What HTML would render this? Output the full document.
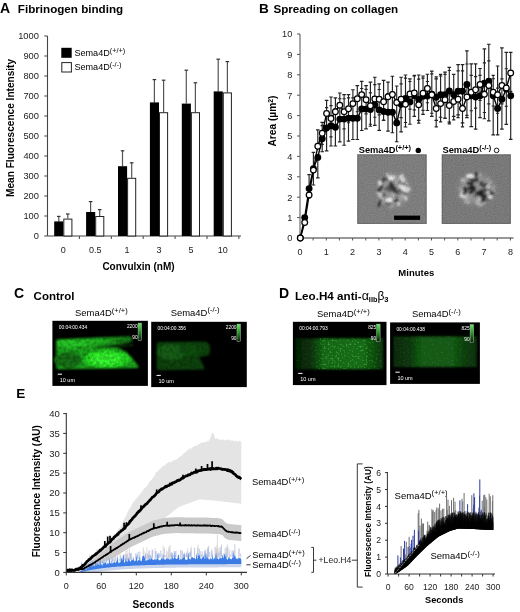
<!DOCTYPE html>
<html><head><meta charset="utf-8"><title>Figure</title>
<style>html,body{margin:0;padding:0;background:#fff;}svg{display:block;will-change:transform;}text{font-family:"Liberation Sans", sans-serif;}</style>
</head><body>
<svg width="520" height="612" viewBox="0 0 520 612" font-family='"Liberation Sans", sans-serif'>
<rect width="520" height="612" fill="#fff"/>
<defs>
<filter id="soft" x="-20%" y="-20%" width="140%" height="140%"><feGaussianBlur stdDeviation="0.9"/></filter>
<filter id="blur1" x="-20%" y="-20%" width="140%" height="140%"><feGaussianBlur stdDeviation="1.3"/></filter>
<filter id="speck" x="0" y="0" width="100%" height="100%"><feTurbulence type="fractalNoise" baseFrequency="0.3" numOctaves="2" seed="4"/><feColorMatrix type="matrix" values="0 0 0 0 0  0 0 0 0 0  0 0 0 0 0  2.2 0 0 0 -0.8"/><feGaussianBlur stdDeviation="0.5"/></filter>
<filter id="grain" x="0" y="0" width="100%" height="100%"><feTurbulence type="fractalNoise" baseFrequency="0.9" numOctaves="1" seed="2"/><feColorMatrix type="matrix" values="0 0 0 0 0  0 0 0 0 0  0 0 0 0 0  3 0 0 0 -1.2"/></filter>
<filter id="dots" x="0" y="0" width="100%" height="100%"><feTurbulence type="fractalNoise" baseFrequency="0.5" numOctaves="1" seed="6" result="n"/><feColorMatrix in="n" type="matrix" values="0 0 0 0 0  0 0 0 0 0  0 0 0 0 0  3.5 0 0 0 -1.75" result="m"/><feComposite in="SourceGraphic" in2="m" operator="in"/></filter>
<filter id="dots2" x="0" y="0" width="100%" height="100%"><feTurbulence type="fractalNoise" baseFrequency="0.5" numOctaves="1" seed="8" result="n"/><feColorMatrix in="n" type="matrix" values="0 0 0 0 0  0 0 0 0 0  0 0 0 0 0  3.5 0 0 0 -1.8" result="m"/><feComposite in="SourceGraphic" in2="m" operator="in"/></filter>
<linearGradient id="ubandG" x1="0" y1="0" x2="1" y2="0"><stop offset="0" stop-color="#22c022"/><stop offset="0.55" stop-color="#20b420"/><stop offset="1" stop-color="#137013"/></linearGradient>
<linearGradient id="dlG" x1="0" y1="0" x2="1" y2="0"><stop offset="0" stop-color="#051f05"/><stop offset="0.18" stop-color="#092f09"/><stop offset="0.32" stop-color="#136513"/><stop offset="0.75" stop-color="#146a14"/><stop offset="0.9" stop-color="#0e4a0e"/><stop offset="1" stop-color="#082e08"/></linearGradient>
<linearGradient id="dlD" x1="0" y1="0" x2="1" y2="0"><stop offset="0" stop-color="#0e3a0e"/><stop offset="0.2" stop-color="#1a5a1a"/><stop offset="0.33" stop-color="#4ac84a"/><stop offset="0.8" stop-color="#4ac84a"/><stop offset="1" stop-color="#1a5a1a"/></linearGradient>
<linearGradient id="drG" x1="0" y1="0" x2="1" y2="0"><stop offset="0" stop-color="#072807"/><stop offset="0.2" stop-color="#0a360a"/><stop offset="0.33" stop-color="#125812"/><stop offset="0.72" stop-color="#125812"/><stop offset="0.85" stop-color="#0c3e0c"/><stop offset="1" stop-color="#093009"/></linearGradient>
<linearGradient id="drD" x1="0" y1="0" x2="1" y2="0"><stop offset="0" stop-color="#184818"/><stop offset="0.3" stop-color="#2a802a"/><stop offset="0.75" stop-color="#2a802a"/><stop offset="1" stop-color="#184818"/></linearGradient>
<radialGradient id="halo"><stop offset="0" stop-color="#a8a8a8"/><stop offset="0.6" stop-color="#9c9c9c" stop-opacity="0.8"/><stop offset="1" stop-color="#888" stop-opacity="0"/></radialGradient>
<linearGradient id="cbar" x1="0" y1="0" x2="0" y2="1"><stop offset="0" stop-color="#5cf05c"/><stop offset="0.6" stop-color="#1c7a1c"/><stop offset="1" stop-color="#061806"/></linearGradient>
<clipPath id="clipCL"><path d="M56.3 339.2 L129 336.3 L133 338 L132 344 L120 346 L126 351.5 L133 359 L139 367 L56.3 369.3 Z"/></clipPath>
<clipPath id="clipCR"><path d="M156.6 342 L205 341.5 Q211 343 210.5 350 L209 356 L198 357 L203 366 L205 370 L156.6 370.3 Z"/></clipPath>
</defs>
<text x="0.0" y="12.6" font-size="14" font-weight="bold" text-anchor="start" fill="#000" >A</text>
<text x="17.8" y="12.6" font-size="11.65" font-weight="bold" text-anchor="start" fill="#000" >Fibrinogen binding</text>
<line x1="47.5" y1="36" x2="47.5" y2="236.0" stroke="#444" stroke-width="1.1"/>
<line x1="47.5" y1="236.0" x2="241" y2="236.0" stroke="#444" stroke-width="1.1"/>
<line x1="44.3" y1="236.0" x2="47.5" y2="236.0" stroke="#444" stroke-width="1"/>
<text x="38.9" y="239.3" font-size="9.3" text-anchor="end" fill="#222" >0</text>
<line x1="44.3" y1="216.0" x2="47.5" y2="216.0" stroke="#444" stroke-width="1"/>
<text x="38.9" y="219.3" font-size="9.3" text-anchor="end" fill="#222" >100</text>
<line x1="44.3" y1="196.0" x2="47.5" y2="196.0" stroke="#444" stroke-width="1"/>
<text x="38.9" y="199.3" font-size="9.3" text-anchor="end" fill="#222" >200</text>
<line x1="44.3" y1="176.0" x2="47.5" y2="176.0" stroke="#444" stroke-width="1"/>
<text x="38.9" y="179.3" font-size="9.3" text-anchor="end" fill="#222" >300</text>
<line x1="44.3" y1="156.0" x2="47.5" y2="156.0" stroke="#444" stroke-width="1"/>
<text x="38.9" y="159.3" font-size="9.3" text-anchor="end" fill="#222" >400</text>
<line x1="44.3" y1="136.0" x2="47.5" y2="136.0" stroke="#444" stroke-width="1"/>
<text x="38.9" y="139.3" font-size="9.3" text-anchor="end" fill="#222" >500</text>
<line x1="44.3" y1="116.0" x2="47.5" y2="116.0" stroke="#444" stroke-width="1"/>
<text x="38.9" y="119.3" font-size="9.3" text-anchor="end" fill="#222" >600</text>
<line x1="44.3" y1="96.0" x2="47.5" y2="96.0" stroke="#444" stroke-width="1"/>
<text x="38.9" y="99.3" font-size="9.3" text-anchor="end" fill="#222" >700</text>
<line x1="44.3" y1="76.0" x2="47.5" y2="76.0" stroke="#444" stroke-width="1"/>
<text x="38.9" y="79.3" font-size="9.3" text-anchor="end" fill="#222" >800</text>
<line x1="44.3" y1="56.0" x2="47.5" y2="56.0" stroke="#444" stroke-width="1"/>
<text x="38.9" y="59.3" font-size="9.3" text-anchor="end" fill="#222" >900</text>
<line x1="44.3" y1="36.0" x2="47.5" y2="36.0" stroke="#444" stroke-width="1"/>
<text x="38.9" y="39.3" font-size="9.3" text-anchor="end" fill="#222" >1000</text>
<line x1="79.4" y1="236.0" x2="79.4" y2="239.0" stroke="#444" stroke-width="1"/>
<line x1="111.3" y1="236.0" x2="111.3" y2="239.0" stroke="#444" stroke-width="1"/>
<line x1="143.2" y1="236.0" x2="143.2" y2="239.0" stroke="#444" stroke-width="1"/>
<line x1="175.1" y1="236.0" x2="175.1" y2="239.0" stroke="#444" stroke-width="1"/>
<line x1="207.0" y1="236.0" x2="207.0" y2="239.0" stroke="#444" stroke-width="1"/>
<line x1="238.9" y1="236.0" x2="238.9" y2="239.0" stroke="#444" stroke-width="1"/>
<text x="63.3" y="253.3" font-size="9" text-anchor="middle" fill="#222" >0</text>
<line x1="58.8" y1="221.4" x2="58.8" y2="216.4" stroke="#555" stroke-width="1.2"/>
<line x1="57.0" y1="216.4" x2="60.5" y2="216.4" stroke="#333" stroke-width="1.2"/>
<line x1="67.8" y1="218.6" x2="67.8" y2="214.0" stroke="#555" stroke-width="1.2"/>
<line x1="66.0" y1="214.0" x2="69.6" y2="214.0" stroke="#333" stroke-width="1.2"/>
<rect x="54.2" y="221.4" width="9.1" height="14.6" fill="#000"/>
<rect x="63.8" y="219.1" width="8.1" height="16.9" fill="#fff" stroke="#222" stroke-width="1"/>
<text x="95.2" y="253.3" font-size="9" text-anchor="middle" fill="#222" >0.5</text>
<line x1="90.6" y1="212.0" x2="90.6" y2="201.6" stroke="#555" stroke-width="1.2"/>
<line x1="88.8" y1="201.6" x2="92.4" y2="201.6" stroke="#333" stroke-width="1.2"/>
<line x1="99.7" y1="216.0" x2="99.7" y2="209.6" stroke="#555" stroke-width="1.2"/>
<line x1="97.9" y1="209.6" x2="101.5" y2="209.6" stroke="#333" stroke-width="1.2"/>
<rect x="86.1" y="212.0" width="9.1" height="24.0" fill="#000"/>
<rect x="95.7" y="216.5" width="8.1" height="19.5" fill="#fff" stroke="#222" stroke-width="1"/>
<text x="127.1" y="253.3" font-size="9" text-anchor="middle" fill="#222" >1</text>
<line x1="122.5" y1="166.2" x2="122.5" y2="150.8" stroke="#555" stroke-width="1.2"/>
<line x1="120.8" y1="150.8" x2="124.3" y2="150.8" stroke="#333" stroke-width="1.2"/>
<line x1="131.7" y1="177.8" x2="131.7" y2="162.8" stroke="#555" stroke-width="1.2"/>
<line x1="129.8" y1="162.8" x2="133.5" y2="162.8" stroke="#333" stroke-width="1.2"/>
<rect x="118.0" y="166.2" width="9.1" height="69.8" fill="#000"/>
<rect x="127.6" y="178.3" width="8.1" height="57.7" fill="#fff" stroke="#222" stroke-width="1"/>
<text x="159.0" y="253.3" font-size="9" text-anchor="middle" fill="#222" >3</text>
<line x1="154.4" y1="102.4" x2="154.4" y2="79.6" stroke="#555" stroke-width="1.2"/>
<line x1="152.6" y1="79.6" x2="156.2" y2="79.6" stroke="#333" stroke-width="1.2"/>
<line x1="163.6" y1="112.2" x2="163.6" y2="80.2" stroke="#555" stroke-width="1.2"/>
<line x1="161.8" y1="80.2" x2="165.4" y2="80.2" stroke="#333" stroke-width="1.2"/>
<rect x="149.9" y="102.4" width="9.1" height="133.6" fill="#000"/>
<rect x="159.5" y="112.7" width="8.1" height="123.3" fill="#fff" stroke="#222" stroke-width="1"/>
<text x="190.9" y="253.3" font-size="9" text-anchor="middle" fill="#222" >5</text>
<line x1="186.3" y1="103.6" x2="186.3" y2="70.2" stroke="#555" stroke-width="1.2"/>
<line x1="184.5" y1="70.2" x2="188.1" y2="70.2" stroke="#333" stroke-width="1.2"/>
<line x1="195.4" y1="112.2" x2="195.4" y2="82.8" stroke="#555" stroke-width="1.2"/>
<line x1="193.6" y1="82.8" x2="197.2" y2="82.8" stroke="#333" stroke-width="1.2"/>
<rect x="181.8" y="103.6" width="9.1" height="132.4" fill="#000"/>
<rect x="191.4" y="112.7" width="8.1" height="123.3" fill="#fff" stroke="#222" stroke-width="1"/>
<text x="222.8" y="253.3" font-size="9" text-anchor="middle" fill="#222" >10</text>
<line x1="218.2" y1="91.4" x2="218.2" y2="59.2" stroke="#555" stroke-width="1.2"/>
<line x1="216.4" y1="59.2" x2="220.1" y2="59.2" stroke="#333" stroke-width="1.2"/>
<line x1="227.4" y1="92.4" x2="227.4" y2="61.6" stroke="#555" stroke-width="1.2"/>
<line x1="225.6" y1="61.6" x2="229.2" y2="61.6" stroke="#333" stroke-width="1.2"/>
<rect x="213.7" y="91.4" width="9.1" height="144.6" fill="#000"/>
<rect x="223.3" y="92.9" width="8.1" height="143.1" fill="#fff" stroke="#222" stroke-width="1"/>
<text x="138.5" y="269.5" font-size="10" font-weight="bold" text-anchor="middle" fill="#000" >Convulxin (nM)</text>
<text transform="translate(14.3,127.9) rotate(-90)" font-size="10.1" font-weight="bold" text-anchor="middle">Mean Fluorescence Intensity</text>
<rect x="61.3" y="47.8" width="10.4" height="10" fill="#000"/>
<rect x="61.8" y="62.6" width="9.6" height="9.4" fill="#fff" stroke="#222" stroke-width="1"/>
<text x="74.4" y="55.6" font-size="9.1" text-anchor="start" fill="#000">Sema4D<tspan font-size="7.28" dy="-3.00">(+/+)</tspan></text>
<text x="74.4" y="70.4" font-size="9.1" text-anchor="start" fill="#000">Sema4D<tspan font-size="7.28" dy="-3.00">(-/-)</tspan></text>
<text x="259.0" y="12.6" font-size="13.6" font-weight="bold" text-anchor="start" fill="#000" >B</text>
<text x="273.4" y="12.6" font-size="11.65" font-weight="bold" text-anchor="start" fill="#000" >Spreading on collagen</text>
<line x1="300.0" y1="34" x2="300.0" y2="238.0" stroke="#777" stroke-width="1.3"/>
<line x1="300.0" y1="238.0" x2="513.5" y2="238.0" stroke="#333" stroke-width="1.2"/>
<line x1="297" y1="238.0" x2="300.0" y2="238.0" stroke="#555" stroke-width="1"/>
<text x="292.3" y="241.3" font-size="9.2" text-anchor="end" fill="#222" >0</text>
<line x1="297" y1="217.6" x2="300.0" y2="217.6" stroke="#555" stroke-width="1"/>
<text x="292.3" y="220.9" font-size="9.2" text-anchor="end" fill="#222" >1</text>
<line x1="297" y1="197.2" x2="300.0" y2="197.2" stroke="#555" stroke-width="1"/>
<text x="292.3" y="200.5" font-size="9.2" text-anchor="end" fill="#222" >2</text>
<line x1="297" y1="176.8" x2="300.0" y2="176.8" stroke="#555" stroke-width="1"/>
<text x="292.3" y="180.1" font-size="9.2" text-anchor="end" fill="#222" >3</text>
<line x1="297" y1="156.4" x2="300.0" y2="156.4" stroke="#555" stroke-width="1"/>
<text x="292.3" y="159.7" font-size="9.2" text-anchor="end" fill="#222" >4</text>
<line x1="297" y1="136.0" x2="300.0" y2="136.0" stroke="#555" stroke-width="1"/>
<text x="292.3" y="139.3" font-size="9.2" text-anchor="end" fill="#222" >5</text>
<line x1="297" y1="115.6" x2="300.0" y2="115.6" stroke="#555" stroke-width="1"/>
<text x="292.3" y="118.9" font-size="9.2" text-anchor="end" fill="#222" >6</text>
<line x1="297" y1="95.2" x2="300.0" y2="95.2" stroke="#555" stroke-width="1"/>
<text x="292.3" y="98.5" font-size="9.2" text-anchor="end" fill="#222" >7</text>
<line x1="297" y1="74.8" x2="300.0" y2="74.8" stroke="#555" stroke-width="1"/>
<text x="292.3" y="78.1" font-size="9.2" text-anchor="end" fill="#222" >8</text>
<line x1="297" y1="54.4" x2="300.0" y2="54.4" stroke="#555" stroke-width="1"/>
<text x="292.3" y="57.7" font-size="9.2" text-anchor="end" fill="#222" >9</text>
<line x1="297" y1="34.0" x2="300.0" y2="34.0" stroke="#555" stroke-width="1"/>
<text x="292.3" y="37.3" font-size="9.2" text-anchor="end" fill="#222" >10</text>
<line x1="300.0" y1="238.0" x2="300.0" y2="240.5" stroke="#555" stroke-width="1"/>
<line x1="313.1" y1="238.0" x2="313.1" y2="240.5" stroke="#555" stroke-width="1"/>
<line x1="326.3" y1="238.0" x2="326.3" y2="240.5" stroke="#555" stroke-width="1"/>
<line x1="339.4" y1="238.0" x2="339.4" y2="240.5" stroke="#555" stroke-width="1"/>
<line x1="352.6" y1="238.0" x2="352.6" y2="240.5" stroke="#555" stroke-width="1"/>
<line x1="365.8" y1="238.0" x2="365.8" y2="240.5" stroke="#555" stroke-width="1"/>
<line x1="378.9" y1="238.0" x2="378.9" y2="240.5" stroke="#555" stroke-width="1"/>
<line x1="392.1" y1="238.0" x2="392.1" y2="240.5" stroke="#555" stroke-width="1"/>
<line x1="405.2" y1="238.0" x2="405.2" y2="240.5" stroke="#555" stroke-width="1"/>
<line x1="418.4" y1="238.0" x2="418.4" y2="240.5" stroke="#555" stroke-width="1"/>
<line x1="431.5" y1="238.0" x2="431.5" y2="240.5" stroke="#555" stroke-width="1"/>
<line x1="444.6" y1="238.0" x2="444.6" y2="240.5" stroke="#555" stroke-width="1"/>
<line x1="457.8" y1="238.0" x2="457.8" y2="240.5" stroke="#555" stroke-width="1"/>
<line x1="471.0" y1="238.0" x2="471.0" y2="240.5" stroke="#555" stroke-width="1"/>
<line x1="484.1" y1="238.0" x2="484.1" y2="240.5" stroke="#555" stroke-width="1"/>
<line x1="497.2" y1="238.0" x2="497.2" y2="240.5" stroke="#555" stroke-width="1"/>
<line x1="510.4" y1="238.0" x2="510.4" y2="240.5" stroke="#555" stroke-width="1"/>
<text x="300.0" y="255.4" font-size="9.0" text-anchor="middle" fill="#222" >0</text>
<text x="326.3" y="255.4" font-size="9.0" text-anchor="middle" fill="#222" >1</text>
<text x="352.6" y="255.4" font-size="9.0" text-anchor="middle" fill="#222" >2</text>
<text x="378.9" y="255.4" font-size="9.0" text-anchor="middle" fill="#222" >3</text>
<text x="405.2" y="255.4" font-size="9.0" text-anchor="middle" fill="#222" >4</text>
<text x="431.5" y="255.4" font-size="9.0" text-anchor="middle" fill="#222" >5</text>
<text x="457.8" y="255.4" font-size="9.0" text-anchor="middle" fill="#222" >6</text>
<text x="484.1" y="255.4" font-size="9.0" text-anchor="middle" fill="#222" >7</text>
<text x="510.4" y="255.4" font-size="9.0" text-anchor="middle" fill="#222" >8</text>
<text x="416.3" y="275.5" font-size="9.5" font-weight="bold" text-anchor="middle" fill="#000" >Minutes</text>
<text transform="translate(276.3,121) rotate(-90)" font-size="10.2" font-weight="bold" text-anchor="middle">Area (µm<tspan font-size="6.9" dy="-3.7">2</tspan><tspan dy="3.7">)</tspan></text>
<path d="M304.7 222.5V216.4M302.9 216.4H306.5M304.7 217.6V223.7M302.9 223.7H306.5M309.1 195.0V174.6M307.3 174.6H310.9M309.1 188.6V197.8M307.3 197.8H310.9M313.4 170.1V152.3M311.6 152.3H315.2M313.4 168.6V185.0M311.6 185.0H315.2M317.8 146.2V129.9M316.0 129.9H319.6M317.8 157.4V177.8M316.0 177.8H319.6M322.2 133.3V122.3M320.4 122.3H324.0M322.2 138.7V151.7M320.4 151.7H324.0M322.2 133.3V144.4M320.6 144.4H323.8M322.2 138.7V125.6M320.6 125.6H323.8M326.6 113.4V100.3M324.8 100.3H328.4M326.6 128.0V150.9M324.8 150.9H328.4M326.6 113.4V126.4M325.0 126.4H328.2M326.6 128.0V107.6M325.0 107.6H328.2M331.0 118.5V97.0M329.2 97.0H332.8M331.0 125.8V146.0M329.2 146.0H332.8M331.0 118.5V136.8M329.4 136.8H332.6M331.0 125.8V105.6M329.4 105.6H332.6M335.4 111.7V97.9M333.6 97.9H337.2M335.4 127.2V146.0M333.6 146.0H337.2M335.4 111.7V125.6M333.8 125.6H337.0M335.4 127.2V108.5M333.8 108.5H337.0M339.8 105.2V93.0M337.9 93.0H341.6M339.8 119.1V141.9M337.9 141.9H341.6M339.8 105.2V117.4M338.1 117.4H341.4M339.8 119.1V98.7M338.1 98.7H341.4M344.1 111.7V94.6M342.3 94.6H345.9M344.1 119.1V145.2M342.3 145.2H345.9M344.1 111.7V128.9M342.5 128.9H345.7M344.1 119.1V98.7M342.5 98.7H345.7M348.5 108.7V94.6M346.7 94.6H350.3M348.5 118.3V141.1M346.7 141.1H350.3M348.5 108.7V122.7M346.9 122.7H350.1M348.5 118.3V97.9M346.9 97.9H350.1M352.9 103.6V89.7M351.1 89.7H354.7M352.9 118.3V139.5M351.1 139.5H354.7M352.9 103.6V117.4M351.3 117.4H354.5M352.9 118.3V97.9M351.3 97.9H354.5M357.3 98.7V85.6M355.5 85.6H359.1M357.3 118.3V139.5M355.5 139.5H359.1M357.3 98.7V111.7M355.7 111.7H358.9M357.3 118.3V97.9M355.7 97.9H358.9M361.7 94.6V81.3M359.9 81.3H363.5M361.7 108.9V130.5M359.9 130.5H363.5M361.7 94.6V107.8M360.1 107.8H363.3M361.7 108.9V88.5M360.1 88.5H363.3M366.1 99.7V85.6M364.2 85.6H367.9M366.1 109.1V128.9M364.2 128.9H367.9M366.1 99.7V113.8M364.4 113.8H367.7M366.1 109.1V89.3M364.4 89.3H367.7M370.4 105.8V82.1M368.6 82.1H372.2M370.4 109.5V126.2M368.6 126.2H372.2M370.4 105.8V124.2M368.8 124.2H372.0M370.4 109.5V92.8M368.8 92.8H372.0M374.8 98.9V77.2M373.0 77.2H376.6M374.8 105.0V125.4M373.0 125.4H376.6M374.8 98.9V117.2M373.2 117.2H376.4M374.8 105.0V84.6M373.2 84.6H376.4M379.2 99.3V83.8M377.4 83.8H381.0M379.2 109.9V130.3M377.4 130.3H381.0M379.2 99.3V114.8M377.6 114.8H380.8M379.2 109.9V89.5M377.6 89.5H380.8M383.6 101.7V80.3M381.8 80.3H385.4M383.6 111.5V120.5M381.8 120.5H385.4M383.6 101.7V120.1M382.0 120.1H385.2M383.6 111.5V102.5M382.0 102.5H385.2M388.0 96.8V82.1M386.2 82.1H389.8M388.0 112.3V131.1M386.2 131.1H389.8M388.0 96.8V111.5M386.4 111.5H389.6M388.0 112.3V93.6M386.4 93.6H389.6M392.4 94.4V76.2M390.6 76.2H394.2M392.4 112.3V132.7M390.6 132.7H394.2M392.4 94.4V112.5M390.8 112.5H394.0M392.4 112.3V91.9M390.8 91.9H394.0M396.7 102.5V86.0M394.9 86.0H398.5M396.7 122.9V141.7M394.9 141.7H398.5M396.7 102.5V119.1M395.1 119.1H398.3M396.7 122.9V104.2M395.1 104.2H398.3M401.1 99.3V77.2M399.3 77.2H402.9M401.1 104.2V131.9M399.3 131.9H402.9M401.1 99.3V117.6M399.5 117.6H402.7M401.1 104.2V83.8M399.5 83.8H402.7M405.5 104.2V75.0M403.7 75.0H407.3M405.5 98.5V127.0M403.7 127.0H407.3M405.5 104.2V122.5M403.9 122.5H407.1M405.5 98.5V78.1M403.9 78.1H407.1M409.9 94.0V78.9M408.1 78.9H411.7M409.9 101.9V124.2M408.1 124.2H411.7M409.9 94.0V109.1M408.3 109.1H411.5M409.9 101.9V81.5M408.3 81.5H411.5M414.3 93.0V76.0M412.5 76.0H416.1M414.3 95.6V116.4M412.5 116.4H416.1M414.3 93.0V109.9M412.7 109.9H415.9M414.3 95.6V75.2M412.7 75.2H415.9M418.7 104.8V75.0M416.9 75.0H420.5M418.7 99.5V120.3M416.9 120.3H420.5M418.7 104.8V123.1M417.1 123.1H420.3M418.7 99.5V79.1M417.1 79.1H420.3M423.0 93.2V76.0M421.2 76.0H424.8M423.0 96.2V114.4M421.2 114.4H424.8M423.0 93.2V110.3M421.4 110.3H424.6M423.0 96.2V78.1M421.4 78.1H424.6M427.4 88.5V74.2M425.6 74.2H429.2M427.4 96.0V110.5M425.6 110.5H429.2M427.4 88.5V102.7M425.8 102.7H429.0M427.4 96.0V81.5M425.8 81.5H429.0M431.8 94.8V71.1M430.0 71.1H433.6M431.8 94.2V116.4M430.0 116.4H433.6M431.8 94.8V113.2M430.2 113.2H433.4M431.8 94.2V73.8M430.2 73.8H433.4M436.2 108.5V78.9M434.4 78.9H438.0M436.2 97.2V120.3M434.4 120.3H438.0M436.2 108.5V126.8M434.6 126.8H437.8M436.2 97.2V76.8M434.6 76.8H437.8M440.6 103.6V76.0M438.8 76.0H442.4M440.6 94.8V117.2M438.8 117.2H442.4M440.6 103.6V121.9M439.0 121.9H442.2M440.6 94.8V74.4M439.0 74.4H442.2M445.0 99.7V72.1M443.2 72.1H446.8M445.0 94.8V118.3M443.2 118.3H446.8M445.0 99.7V118.0M443.4 118.0H446.6M445.0 94.8V74.4M443.4 74.4H446.6M449.3 105.4V67.3M447.5 67.3H451.1M449.3 90.9V122.1M447.5 122.1H451.1M449.3 105.4V123.8M447.7 123.8H450.9M449.3 90.9V70.5M447.7 70.5H450.9M453.7 101.5V74.2M451.9 74.2H455.5M453.7 94.8V116.4M451.9 116.4H455.5M453.7 101.5V119.9M452.1 119.9H455.3M453.7 94.8V74.4M452.1 74.4H455.3M458.1 99.3V64.6M456.3 64.6H459.9M458.1 91.3V114.8M456.3 114.8H459.9M458.1 99.3V117.6M456.5 117.6H459.7M458.1 91.3V70.9M456.5 70.9H459.7M462.5 108.5V64.6M460.7 64.6H464.3M462.5 91.3V122.9M460.7 122.9H464.3M462.5 108.5V126.8M460.9 126.8H464.1M462.5 91.3V70.9M460.9 70.9H464.1M466.9 97.0V50.9M465.1 50.9H468.7M466.9 84.4V117.6M465.1 117.6H468.7M466.9 97.0V115.4M465.3 115.4H468.5M466.9 84.4V64.0M465.3 64.0H468.5M471.2 92.3V63.8M469.4 63.8H473.1M471.2 95.8V126.6M469.4 126.6H473.1M471.2 92.3V110.7M469.6 110.7H472.9M471.2 95.8V75.4M469.6 75.4H472.9M475.6 89.7V63.8M473.8 63.8H477.4M475.6 97.0V129.1M473.8 129.1H477.4M475.6 89.7V108.1M474.0 108.1H477.2M475.6 97.0V76.6M474.0 76.6H477.2M480.0 84.4V68.5M478.2 68.5H481.8M480.0 95.8V117.6M478.2 117.6H481.8M480.0 84.4V100.3M478.4 100.3H481.6M480.0 95.8V75.4M478.4 75.4H481.6M484.4 94.2V48.9M482.6 48.9H486.2M484.4 83.2V118.7M482.6 118.7H486.2M484.4 94.2V112.5M482.8 112.5H486.0M484.4 83.2V62.8M482.8 62.8H486.0M488.8 85.4V44.2M487.0 44.2H490.6M488.8 81.3V120.9M487.0 120.9H490.6M488.8 85.4V103.8M487.2 103.8H490.4M488.8 81.3V60.9M487.2 60.9H490.4M493.2 92.3V78.7M491.4 78.7H495.0M493.2 95.8V134.8M491.4 134.8H495.0M493.2 92.3V106.0M491.6 106.0H494.8M493.2 95.8V75.4M491.6 75.4H494.8M497.6 94.8V66.0M495.8 66.0H499.4M497.6 108.5V134.8M495.8 134.8H499.4M497.6 94.8V113.2M496.0 113.2H499.2M497.6 108.5V88.1M496.0 88.1H499.2M501.9 85.4V47.9M500.1 47.9H503.7M501.9 99.3V129.1M500.1 129.1H503.7M501.9 85.4V103.8M500.3 103.8H503.5M501.9 99.3V78.9M500.3 78.9H503.5M506.3 87.9V52.4M504.5 52.4H508.1M506.3 89.1V124.4M504.5 124.4H508.1M506.3 87.9V106.2M504.7 106.2H507.9M506.3 89.1V68.7M504.7 68.7H507.9M510.7 73.0V52.4M508.9 52.4H512.5M510.7 95.8V139.3M508.9 139.3H512.5M510.7 73.0V91.3M509.1 91.3H512.3M510.7 95.8V75.4M509.1 75.4H512.3" stroke="#222" stroke-width="1.15" fill="none"/>
<polyline points="300.3,238.0 304.7,217.6 309.1,188.6 313.4,168.6 317.8,157.4 322.2,138.7 326.6,128.0 331.0,125.8 335.4,127.2 339.8,119.1 344.1,119.1 348.5,118.3 352.9,118.3 357.3,118.3 361.7,108.9 366.1,109.1 370.4,109.5 374.8,105.0 379.2,109.9 383.6,111.5 388.0,112.3 392.4,112.3 396.7,122.9 401.1,104.2 405.5,98.5 409.9,101.9 414.3,95.6 418.7,99.5 423.0,96.2 427.4,96.0 431.8,94.2 436.2,97.2 440.6,94.8 445.0,94.8 449.3,90.9 453.7,94.8 458.1,91.3 462.5,91.3 466.9,84.4 471.2,95.8 475.6,97.0 480.0,95.8 484.4,83.2 488.8,81.3 493.2,95.8 497.6,108.5 501.9,99.3 506.3,89.1 510.7,95.8" stroke="#000" stroke-width="1.4" fill="none"/>
<polyline points="300.3,238.0 304.7,222.5 309.1,195.0 313.4,170.1 317.8,146.2 322.2,133.3 326.6,113.4 331.0,118.5 335.4,111.7 339.8,105.2 344.1,111.7 348.5,108.7 352.9,103.6 357.3,98.7 361.7,94.6 366.1,99.7 370.4,105.8 374.8,98.9 379.2,99.3 383.6,101.7 388.0,96.8 392.4,94.4 396.7,102.5 401.1,99.3 405.5,104.2 409.9,94.0 414.3,93.0 418.7,104.8 423.0,93.2 427.4,88.5 431.8,94.8 436.2,108.5 440.6,103.6 445.0,99.7 449.3,105.4 453.7,101.5 458.1,99.3 462.5,108.5 466.9,97.0 471.2,92.3 475.6,89.7 480.0,84.4 484.4,94.2 488.8,85.4 493.2,92.3 497.6,94.8 501.9,85.4 506.3,87.9 510.7,73.0" stroke="#000" stroke-width="1.4" fill="none"/>
<circle cx="300.3" cy="238.0" r="3.45" fill="#000"/>
<circle cx="304.7" cy="217.6" r="3.45" fill="#000"/>
<circle cx="309.1" cy="188.6" r="3.45" fill="#000"/>
<circle cx="313.4" cy="168.6" r="3.45" fill="#000"/>
<circle cx="317.8" cy="157.4" r="3.45" fill="#000"/>
<circle cx="322.2" cy="138.7" r="3.45" fill="#000"/>
<circle cx="326.6" cy="128.0" r="3.45" fill="#000"/>
<circle cx="331.0" cy="125.8" r="3.45" fill="#000"/>
<circle cx="335.4" cy="127.2" r="3.45" fill="#000"/>
<circle cx="339.8" cy="119.1" r="3.45" fill="#000"/>
<circle cx="344.1" cy="119.1" r="3.45" fill="#000"/>
<circle cx="348.5" cy="118.3" r="3.45" fill="#000"/>
<circle cx="352.9" cy="118.3" r="3.45" fill="#000"/>
<circle cx="357.3" cy="118.3" r="3.45" fill="#000"/>
<circle cx="361.7" cy="108.9" r="3.45" fill="#000"/>
<circle cx="366.1" cy="109.1" r="3.45" fill="#000"/>
<circle cx="370.4" cy="109.5" r="3.45" fill="#000"/>
<circle cx="374.8" cy="105.0" r="3.45" fill="#000"/>
<circle cx="379.2" cy="109.9" r="3.45" fill="#000"/>
<circle cx="383.6" cy="111.5" r="3.45" fill="#000"/>
<circle cx="388.0" cy="112.3" r="3.45" fill="#000"/>
<circle cx="392.4" cy="112.3" r="3.45" fill="#000"/>
<circle cx="396.7" cy="122.9" r="3.45" fill="#000"/>
<circle cx="401.1" cy="104.2" r="3.45" fill="#000"/>
<circle cx="405.5" cy="98.5" r="3.45" fill="#000"/>
<circle cx="409.9" cy="101.9" r="3.45" fill="#000"/>
<circle cx="414.3" cy="95.6" r="3.45" fill="#000"/>
<circle cx="418.7" cy="99.5" r="3.45" fill="#000"/>
<circle cx="423.0" cy="96.2" r="3.45" fill="#000"/>
<circle cx="427.4" cy="96.0" r="3.45" fill="#000"/>
<circle cx="431.8" cy="94.2" r="3.45" fill="#000"/>
<circle cx="436.2" cy="97.2" r="3.45" fill="#000"/>
<circle cx="440.6" cy="94.8" r="3.45" fill="#000"/>
<circle cx="445.0" cy="94.8" r="3.45" fill="#000"/>
<circle cx="449.3" cy="90.9" r="3.45" fill="#000"/>
<circle cx="453.7" cy="94.8" r="3.45" fill="#000"/>
<circle cx="458.1" cy="91.3" r="3.45" fill="#000"/>
<circle cx="462.5" cy="91.3" r="3.45" fill="#000"/>
<circle cx="466.9" cy="84.4" r="3.45" fill="#000"/>
<circle cx="471.2" cy="95.8" r="3.45" fill="#000"/>
<circle cx="475.6" cy="97.0" r="3.45" fill="#000"/>
<circle cx="480.0" cy="95.8" r="3.45" fill="#000"/>
<circle cx="484.4" cy="83.2" r="3.45" fill="#000"/>
<circle cx="488.8" cy="81.3" r="3.45" fill="#000"/>
<circle cx="493.2" cy="95.8" r="3.45" fill="#000"/>
<circle cx="497.6" cy="108.5" r="3.45" fill="#000"/>
<circle cx="501.9" cy="99.3" r="3.45" fill="#000"/>
<circle cx="506.3" cy="89.1" r="3.45" fill="#000"/>
<circle cx="510.7" cy="95.8" r="3.45" fill="#000"/>
<circle cx="300.3" cy="238.0" r="2.85" fill="#fff" stroke="#000" stroke-width="1.25"/>
<circle cx="304.7" cy="222.5" r="2.85" fill="#fff" stroke="#000" stroke-width="1.25"/>
<circle cx="309.1" cy="195.0" r="2.85" fill="#fff" stroke="#000" stroke-width="1.25"/>
<circle cx="313.4" cy="170.1" r="2.85" fill="#fff" stroke="#000" stroke-width="1.25"/>
<circle cx="317.8" cy="146.2" r="2.85" fill="#fff" stroke="#000" stroke-width="1.25"/>
<circle cx="322.2" cy="133.3" r="2.85" fill="#fff" stroke="#000" stroke-width="1.25"/>
<circle cx="326.6" cy="113.4" r="2.85" fill="#fff" stroke="#000" stroke-width="1.25"/>
<circle cx="331.0" cy="118.5" r="2.85" fill="#fff" stroke="#000" stroke-width="1.25"/>
<circle cx="335.4" cy="111.7" r="2.85" fill="#fff" stroke="#000" stroke-width="1.25"/>
<circle cx="339.8" cy="105.2" r="2.85" fill="#fff" stroke="#000" stroke-width="1.25"/>
<circle cx="344.1" cy="111.7" r="2.85" fill="#fff" stroke="#000" stroke-width="1.25"/>
<circle cx="348.5" cy="108.7" r="2.85" fill="#fff" stroke="#000" stroke-width="1.25"/>
<circle cx="352.9" cy="103.6" r="2.85" fill="#fff" stroke="#000" stroke-width="1.25"/>
<circle cx="357.3" cy="98.7" r="2.85" fill="#fff" stroke="#000" stroke-width="1.25"/>
<circle cx="361.7" cy="94.6" r="2.85" fill="#fff" stroke="#000" stroke-width="1.25"/>
<circle cx="366.1" cy="99.7" r="2.85" fill="#fff" stroke="#000" stroke-width="1.25"/>
<circle cx="370.4" cy="105.8" r="2.85" fill="#fff" stroke="#000" stroke-width="1.25"/>
<circle cx="374.8" cy="98.9" r="2.85" fill="#fff" stroke="#000" stroke-width="1.25"/>
<circle cx="379.2" cy="99.3" r="2.85" fill="#fff" stroke="#000" stroke-width="1.25"/>
<circle cx="383.6" cy="101.7" r="2.85" fill="#fff" stroke="#000" stroke-width="1.25"/>
<circle cx="388.0" cy="96.8" r="2.85" fill="#fff" stroke="#000" stroke-width="1.25"/>
<circle cx="392.4" cy="94.4" r="2.85" fill="#fff" stroke="#000" stroke-width="1.25"/>
<circle cx="396.7" cy="102.5" r="2.85" fill="#fff" stroke="#000" stroke-width="1.25"/>
<circle cx="401.1" cy="99.3" r="2.85" fill="#fff" stroke="#000" stroke-width="1.25"/>
<circle cx="405.5" cy="104.2" r="2.85" fill="#fff" stroke="#000" stroke-width="1.25"/>
<circle cx="409.9" cy="94.0" r="2.85" fill="#fff" stroke="#000" stroke-width="1.25"/>
<circle cx="414.3" cy="93.0" r="2.85" fill="#fff" stroke="#000" stroke-width="1.25"/>
<circle cx="418.7" cy="104.8" r="2.85" fill="#fff" stroke="#000" stroke-width="1.25"/>
<circle cx="423.0" cy="93.2" r="2.85" fill="#fff" stroke="#000" stroke-width="1.25"/>
<circle cx="427.4" cy="88.5" r="2.85" fill="#fff" stroke="#000" stroke-width="1.25"/>
<circle cx="431.8" cy="94.8" r="2.85" fill="#fff" stroke="#000" stroke-width="1.25"/>
<circle cx="436.2" cy="108.5" r="2.85" fill="#fff" stroke="#000" stroke-width="1.25"/>
<circle cx="440.6" cy="103.6" r="2.85" fill="#fff" stroke="#000" stroke-width="1.25"/>
<circle cx="445.0" cy="99.7" r="2.85" fill="#fff" stroke="#000" stroke-width="1.25"/>
<circle cx="449.3" cy="105.4" r="2.85" fill="#fff" stroke="#000" stroke-width="1.25"/>
<circle cx="453.7" cy="101.5" r="2.85" fill="#fff" stroke="#000" stroke-width="1.25"/>
<circle cx="458.1" cy="99.3" r="2.85" fill="#fff" stroke="#000" stroke-width="1.25"/>
<circle cx="462.5" cy="108.5" r="2.85" fill="#fff" stroke="#000" stroke-width="1.25"/>
<circle cx="466.9" cy="97.0" r="2.85" fill="#fff" stroke="#000" stroke-width="1.25"/>
<circle cx="471.2" cy="92.3" r="2.85" fill="#fff" stroke="#000" stroke-width="1.25"/>
<circle cx="475.6" cy="89.7" r="2.85" fill="#fff" stroke="#000" stroke-width="1.25"/>
<circle cx="480.0" cy="84.4" r="2.85" fill="#fff" stroke="#000" stroke-width="1.25"/>
<circle cx="484.4" cy="94.2" r="2.85" fill="#fff" stroke="#000" stroke-width="1.25"/>
<circle cx="488.8" cy="85.4" r="2.85" fill="#fff" stroke="#000" stroke-width="1.25"/>
<circle cx="493.2" cy="92.3" r="2.85" fill="#fff" stroke="#000" stroke-width="1.25"/>
<circle cx="497.6" cy="94.8" r="2.85" fill="#fff" stroke="#000" stroke-width="1.25"/>
<circle cx="501.9" cy="85.4" r="2.85" fill="#fff" stroke="#000" stroke-width="1.25"/>
<circle cx="506.3" cy="87.9" r="2.85" fill="#fff" stroke="#000" stroke-width="1.25"/>
<circle cx="510.7" cy="73.0" r="2.85" fill="#fff" stroke="#000" stroke-width="1.25"/>
<rect x="357.3" y="154.4" width="69.3" height="69.5" fill="#838383"/>
<g filter="url(#soft)"><ellipse cx="393.5" cy="190" rx="19.5" ry="20.6" fill="url(#halo)"/>
<polygon points="405.4,190.0 405.4,195.4 405.0,202.7 398.1,202.2 393.5,203.6 388.5,203.4 386.9,197.3 382.0,195.2 380.0,190.0 379.6,183.7 387.5,183.4 389.5,179.3 393.5,180.7 399.3,174.5 403.5,179.0 400.9,186.6" fill="#979797"/>
<ellipse cx="408.3" cy="188.2" rx="2.4" ry="1.5" fill="#c8c8c8" transform="rotate(387 408.3 188.2)"/>
<ellipse cx="396.1" cy="191.2" rx="2.6" ry="1.2" fill="#a0a0a0" transform="rotate(32 396.1 191.2)"/>
<ellipse cx="396.0" cy="197.6" rx="2.5" ry="1.3" fill="#141414" transform="rotate(48 396.0 197.6)"/>
<ellipse cx="408.7" cy="189.8" rx="1.9" ry="1.1" fill="#eaeaea" transform="rotate(338 408.7 189.8)"/>
<ellipse cx="405.5" cy="196.3" rx="2.0" ry="1.8" fill="#969696" transform="rotate(60 405.5 196.3)"/>
<ellipse cx="400.5" cy="190.0" rx="2.0" ry="1.5" fill="#b8b8b8" transform="rotate(-8 400.5 190.0)"/>
<ellipse cx="387.3" cy="187.0" rx="1.5" ry="1.2" fill="#969696" transform="rotate(250 387.3 187.0)"/>
<ellipse cx="393.8" cy="184.3" rx="1.4" ry="1.3" fill="#141414" transform="rotate(272 393.8 184.3)"/>
<ellipse cx="390.8" cy="183.4" rx="2.1" ry="1.2" fill="#222" transform="rotate(235 390.8 183.4)"/>
<ellipse cx="393.8" cy="190.0" rx="1.9" ry="1.7" fill="#4a4a4a" transform="rotate(327 393.8 190.0)"/>
<ellipse cx="382.4" cy="199.5" rx="1.5" ry="1.0" fill="#a0a0a0" transform="rotate(136 382.4 199.5)"/>
<ellipse cx="405.4" cy="190.8" rx="1.5" ry="1.0" fill="#dcdcdc" transform="rotate(12 405.4 190.8)"/>
<ellipse cx="394.0" cy="203.0" rx="1.6" ry="1.4" fill="#b8b8b8" transform="rotate(121 394.0 203.0)"/>
<ellipse cx="399.7" cy="197.8" rx="2.9" ry="1.6" fill="#969696" transform="rotate(24 399.7 197.8)"/>
<ellipse cx="398.3" cy="203.4" rx="2.5" ry="1.2" fill="#f6f6f6" transform="rotate(67 398.3 203.4)"/>
<ellipse cx="396.4" cy="191.7" rx="2.9" ry="1.1" fill="#4a4a4a" transform="rotate(49 396.4 191.7)"/>
<ellipse cx="392.9" cy="205.2" rx="2.2" ry="1.7" fill="#969696" transform="rotate(140 392.9 205.2)"/>
<ellipse cx="400.9" cy="198.3" rx="1.8" ry="1.7" fill="#a0a0a0" transform="rotate(16 400.9 198.3)"/>
<ellipse cx="401.3" cy="190.9" rx="1.5" ry="1.2" fill="#141414" transform="rotate(9 401.3 190.9)"/>
<ellipse cx="398.1" cy="189.1" rx="3.0" ry="1.5" fill="#3c3c3c" transform="rotate(369 398.1 189.1)"/>
<ellipse cx="388.6" cy="186.8" rx="2.2" ry="1.2" fill="#141414" transform="rotate(192 388.6 186.8)"/>
<ellipse cx="405.0" cy="192.7" rx="2.6" ry="1.2" fill="#141414" transform="rotate(62 405.0 192.7)"/>
<ellipse cx="403.5" cy="195.6" rx="2.7" ry="1.7" fill="#acacac" transform="rotate(12 403.5 195.6)"/>
<ellipse cx="387.8" cy="175.4" rx="2.9" ry="0.9" fill="#dcdcdc" transform="rotate(247 387.8 175.4)"/>
<ellipse cx="405.8" cy="191.2" rx="2.4" ry="1.0" fill="#a0a0a0" transform="rotate(19 405.8 191.2)"/>
<ellipse cx="407.7" cy="189.3" rx="2.9" ry="1.5" fill="#dcdcdc" transform="rotate(353 407.7 189.3)"/>
<ellipse cx="382.6" cy="192.9" rx="1.9" ry="1.0" fill="#a0a0a0" transform="rotate(119 382.6 192.9)"/>
<ellipse cx="398.4" cy="188.5" rx="1.8" ry="0.9" fill="#b8b8b8" transform="rotate(325 398.4 188.5)"/>
<ellipse cx="390.5" cy="183.2" rx="2.5" ry="1.3" fill="#2e2e2e" transform="rotate(283 390.5 183.2)"/>
<ellipse cx="387.7" cy="202.1" rx="2.7" ry="1.6" fill="#3c3c3c" transform="rotate(88 387.7 202.1)"/>
<ellipse cx="395.1" cy="197.6" rx="1.6" ry="1.3" fill="#acacac" transform="rotate(111 395.1 197.6)"/>
<ellipse cx="401.0" cy="178.5" rx="2.7" ry="1.0" fill="#eaeaea" transform="rotate(303 401.0 178.5)"/>
<ellipse cx="405.9" cy="183.1" rx="2.5" ry="1.5" fill="#b8b8b8" transform="rotate(367 405.9 183.1)"/>
<ellipse cx="387.4" cy="183.3" rx="2.8" ry="0.9" fill="#969696" transform="rotate(246 387.4 183.3)"/>
<ellipse cx="385.9" cy="186.0" rx="2.4" ry="1.3" fill="#a0a0a0" transform="rotate(174 385.9 186.0)"/>
<ellipse cx="394.4" cy="181.4" rx="3.0" ry="1.0" fill="#a0a0a0" transform="rotate(238 394.4 181.4)"/>
<ellipse cx="381.6" cy="187.0" rx="2.5" ry="1.1" fill="#a0a0a0" transform="rotate(190 381.6 187.0)"/>
<ellipse cx="394.2" cy="191.6" rx="1.7" ry="1.1" fill="#141414" transform="rotate(49 394.2 191.6)"/>
<ellipse cx="389.9" cy="178.6" rx="2.0" ry="1.6" fill="#acacac" transform="rotate(292 389.9 178.6)"/>
<ellipse cx="406.0" cy="198.4" rx="2.1" ry="1.1" fill="#f6f6f6" transform="rotate(70 406.0 198.4)"/>
<ellipse cx="404.8" cy="190.5" rx="2.1" ry="1.5" fill="#969696" transform="rotate(-27 404.8 190.5)"/>
<ellipse cx="391.1" cy="175.1" rx="1.7" ry="1.7" fill="#a0a0a0" transform="rotate(308 391.1 175.1)"/>
<ellipse cx="404.5" cy="188.3" rx="1.8" ry="1.5" fill="#eaeaea" transform="rotate(303 404.5 188.3)"/>
<ellipse cx="390.6" cy="189.9" rx="2.6" ry="1.3" fill="#3c3c3c" transform="rotate(135 390.6 189.9)"/>
<ellipse cx="394.9" cy="186.1" rx="2.3" ry="1.5" fill="#acacac" transform="rotate(333 394.9 186.1)"/>
<ellipse cx="378.6" cy="193.1" rx="2.7" ry="1.5" fill="#c8c8c8" transform="rotate(214 378.6 193.1)"/>
<ellipse cx="378.7" cy="190.8" rx="2.1" ry="1.4" fill="#222" transform="rotate(210 378.7 190.8)"/>
<ellipse cx="387.8" cy="187.4" rx="1.8" ry="1.5" fill="#4a4a4a" transform="rotate(248 387.8 187.4)"/>
<ellipse cx="401.6" cy="180.5" rx="2.9" ry="1.4" fill="#222" transform="rotate(321 401.6 180.5)"/>
<ellipse cx="396.9" cy="201.7" rx="1.4" ry="1.8" fill="#b8b8b8" transform="rotate(74 396.9 201.7)"/>
<ellipse cx="382.5" cy="198.8" rx="1.5" ry="1.1" fill="#b8b8b8" transform="rotate(187 382.5 198.8)"/>
<ellipse cx="379.4" cy="194.1" rx="1.8" ry="1.3" fill="#dcdcdc" transform="rotate(128 379.4 194.1)"/>
<ellipse cx="380.9" cy="196.1" rx="2.2" ry="1.0" fill="#dcdcdc" transform="rotate(148 380.9 196.1)"/>
<ellipse cx="401.1" cy="191.6" rx="1.5" ry="1.0" fill="#a0a0a0" transform="rotate(-38 401.1 191.6)"/>
<ellipse cx="390.8" cy="203.9" rx="1.6" ry="1.6" fill="#3c3c3c" transform="rotate(65 390.8 203.9)"/>
<ellipse cx="385.9" cy="189.4" rx="2.8" ry="0.9" fill="#4a4a4a" transform="rotate(197 385.9 189.4)"/>
<ellipse cx="398.9" cy="178.3" rx="2.2" ry="1.7" fill="#acacac" transform="rotate(308 398.9 178.3)"/>
<ellipse cx="398.1" cy="183.7" rx="2.8" ry="1.2" fill="#969696" transform="rotate(290 398.1 183.7)"/>
<ellipse cx="399.8" cy="186.4" rx="1.6" ry="1.1" fill="#fff" transform="rotate(355 399.8 186.4)"/>
<ellipse cx="393.2" cy="195.2" rx="2.3" ry="1.5" fill="#b8b8b8" transform="rotate(63 393.2 195.2)"/>
<ellipse cx="384.1" cy="179.2" rx="2.5" ry="1.7" fill="#4a4a4a" transform="rotate(273 384.1 179.2)"/>
<ellipse cx="401.6" cy="197.9" rx="2.7" ry="1.3" fill="#acacac" transform="rotate(-6 401.6 197.9)"/>
<ellipse cx="394.4" cy="176.9" rx="1.6" ry="1.1" fill="#dcdcdc" transform="rotate(245 394.4 176.9)"/>
<ellipse cx="401.6" cy="176.0" rx="2.3" ry="1.0" fill="#fff" transform="rotate(321 401.6 176.0)"/>
<ellipse cx="397.7" cy="192.4" rx="2.2" ry="1.3" fill="#3c3c3c" transform="rotate(38 397.7 192.4)"/>
<ellipse cx="406.2" cy="191.2" rx="2.1" ry="1.2" fill="#f6f6f6" transform="rotate(-8 406.2 191.2)"/>
<ellipse cx="403.9" cy="183.9" rx="1.9" ry="1.0" fill="#141414" transform="rotate(366 403.9 183.9)"/>
<ellipse cx="403.8" cy="178.8" rx="2.4" ry="1.4" fill="#c8c8c8" transform="rotate(363 403.8 178.8)"/>
<ellipse cx="396.1" cy="182.0" rx="2.7" ry="1.3" fill="#acacac" transform="rotate(329 396.1 182.0)"/>
<ellipse cx="402.7" cy="180.4" rx="2.0" ry="1.6" fill="#f6f6f6" transform="rotate(274 402.7 180.4)"/>
<ellipse cx="387.8" cy="199.6" rx="3.0" ry="1.7" fill="#2e2e2e" transform="rotate(78 387.8 199.6)"/>
<ellipse cx="391.4" cy="206.2" rx="2.5" ry="1.4" fill="#acacac" transform="rotate(102 391.4 206.2)"/>
<ellipse cx="381.8" cy="200.7" rx="2.6" ry="1.8" fill="#fff" transform="rotate(93 381.8 200.7)"/>
<ellipse cx="383.7" cy="180.5" rx="2.2" ry="1.6" fill="#3c3c3c" transform="rotate(236 383.7 180.5)"/>
<ellipse cx="401.2" cy="190.6" rx="2.3" ry="1.4" fill="#2e2e2e" transform="rotate(51 401.2 190.6)"/>
<ellipse cx="379.7" cy="183.1" rx="2.3" ry="1.5" fill="#fff" transform="rotate(250 379.7 183.1)"/>
<ellipse cx="382.4" cy="200.6" rx="2.8" ry="1.4" fill="#acacac" transform="rotate(149 382.4 200.6)"/>
<ellipse cx="383.8" cy="195.0" rx="2.4" ry="1.2" fill="#3c3c3c" transform="rotate(133 383.8 195.0)"/>
<ellipse cx="387.1" cy="179.6" rx="1.4" ry="1.6" fill="#2e2e2e" transform="rotate(244 387.1 179.6)"/>
<ellipse cx="387.0" cy="182.1" rx="2.8" ry="1.6" fill="#a0a0a0" transform="rotate(183 387.0 182.1)"/><ellipse cx="381" cy="188" rx="3.5" ry="1.4" fill="#1a1a1a" transform="rotate(-60 381 188)"/><ellipse cx="380" cy="203" rx="4.5" ry="1.3" fill="#262626" transform="rotate(-65 380 203)"/><ellipse cx="393" cy="187" rx="3" ry="1.6" fill="#222" transform="rotate(20 393 187)"/><ellipse cx="396" cy="201" rx="2.5" ry="1.5" fill="#2a2a2a"/><ellipse cx="391" cy="178" rx="3" ry="2" fill="#f4f4f4"/><ellipse cx="403" cy="188" rx="2.5" ry="3" fill="#eee"/><ellipse cx="389" cy="200" rx="3.5" ry="2.5" fill="#f0f0f0"/></g>
<rect x="357.3" y="154.4" width="69.3" height="69.5" fill="#000" filter="url(#grain)" opacity="0.12"/>
<rect x="394.1" y="215.6" width="26" height="4.3" fill="#000"/>
<rect x="441.8" y="154.4" width="69" height="69.5" fill="#7e7e7e"/>
<g filter="url(#soft)"><ellipse cx="476.5" cy="189.5" rx="23.0" ry="19.4" fill="url(#halo)"/>
<polygon points="490.7,189.5 491.5,195.0 488.0,199.7 480.5,198.1 476.5,197.5 471.5,200.2 468.0,197.0 459.9,195.5 459.9,189.5 462.1,184.2 465.8,180.1 470.3,176.3 476.5,180.2 481.8,178.2 484.1,182.8 494.0,183.1" fill="#979797"/>
<ellipse cx="491.6" cy="194.6" rx="2.5" ry="1.6" fill="#2e2e2e" transform="rotate(-20 491.6 194.6)"/>
<ellipse cx="490.6" cy="182.5" rx="1.5" ry="1.8" fill="#acacac" transform="rotate(375 490.6 182.5)"/>
<ellipse cx="485.3" cy="196.2" rx="2.8" ry="1.4" fill="#2e2e2e" transform="rotate(88 485.3 196.2)"/>
<ellipse cx="486.5" cy="181.8" rx="2.0" ry="1.3" fill="#a0a0a0" transform="rotate(328 486.5 181.8)"/>
<ellipse cx="465.5" cy="190.9" rx="2.9" ry="1.8" fill="#141414" transform="rotate(188 465.5 190.9)"/>
<ellipse cx="469.8" cy="196.9" rx="1.6" ry="1.1" fill="#969696" transform="rotate(115 469.8 196.9)"/>
<ellipse cx="460.4" cy="188.5" rx="2.0" ry="1.7" fill="#a0a0a0" transform="rotate(137 460.4 188.5)"/>
<ellipse cx="491.0" cy="191.6" rx="2.6" ry="1.0" fill="#222" transform="rotate(14 491.0 191.6)"/>
<ellipse cx="483.0" cy="201.3" rx="2.2" ry="1.4" fill="#2e2e2e" transform="rotate(87 483.0 201.3)"/>
<ellipse cx="465.7" cy="188.7" rx="2.2" ry="1.8" fill="#3c3c3c" transform="rotate(183 465.7 188.7)"/>
<ellipse cx="483.5" cy="187.7" rx="1.7" ry="1.6" fill="#969696" transform="rotate(316 483.5 187.7)"/>
<ellipse cx="462.9" cy="180.0" rx="1.7" ry="1.6" fill="#eaeaea" transform="rotate(219 462.9 180.0)"/>
<ellipse cx="476.6" cy="194.9" rx="2.2" ry="0.9" fill="#4a4a4a" transform="rotate(71 476.6 194.9)"/>
<ellipse cx="480.3" cy="175.5" rx="2.7" ry="1.4" fill="#acacac" transform="rotate(282 480.3 175.5)"/>
<ellipse cx="467.5" cy="199.9" rx="2.1" ry="1.5" fill="#acacac" transform="rotate(82 467.5 199.9)"/>
<ellipse cx="468.5" cy="202.3" rx="2.5" ry="1.1" fill="#b8b8b8" transform="rotate(97 468.5 202.3)"/>
<ellipse cx="476.0" cy="202.5" rx="2.3" ry="1.1" fill="#acacac" transform="rotate(56 476.0 202.5)"/>
<ellipse cx="480.3" cy="199.8" rx="2.4" ry="1.7" fill="#4a4a4a" transform="rotate(118 480.3 199.8)"/>
<ellipse cx="477.3" cy="179.3" rx="2.7" ry="1.4" fill="#b8b8b8" transform="rotate(259 477.3 179.3)"/>
<ellipse cx="466.1" cy="199.4" rx="2.5" ry="1.0" fill="#a0a0a0" transform="rotate(86 466.1 199.4)"/>
<ellipse cx="481.2" cy="190.5" rx="2.7" ry="1.2" fill="#222" transform="rotate(-27 481.2 190.5)"/>
<ellipse cx="470.5" cy="196.5" rx="2.4" ry="1.0" fill="#b8b8b8" transform="rotate(131 470.5 196.5)"/>
<ellipse cx="473.1" cy="180.1" rx="2.0" ry="1.0" fill="#3c3c3c" transform="rotate(235 473.1 180.1)"/>
<ellipse cx="470.6" cy="177.2" rx="2.6" ry="1.5" fill="#222" transform="rotate(291 470.6 177.2)"/>
<ellipse cx="474.5" cy="191.5" rx="2.2" ry="1.0" fill="#3c3c3c" transform="rotate(141 474.5 191.5)"/>
<ellipse cx="460.3" cy="193.5" rx="1.4" ry="1.2" fill="#222" transform="rotate(142 460.3 193.5)"/>
<ellipse cx="480.0" cy="199.4" rx="2.2" ry="1.5" fill="#222" transform="rotate(39 480.0 199.4)"/>
<ellipse cx="462.9" cy="192.2" rx="2.1" ry="1.6" fill="#f6f6f6" transform="rotate(122 462.9 192.2)"/>
<ellipse cx="478.1" cy="179.5" rx="2.2" ry="1.3" fill="#b8b8b8" transform="rotate(233 478.1 179.5)"/>
<ellipse cx="487.1" cy="196.9" rx="1.9" ry="1.3" fill="#141414" transform="rotate(24 487.1 196.9)"/>
<ellipse cx="474.2" cy="194.9" rx="1.6" ry="1.3" fill="#4a4a4a" transform="rotate(103 474.2 194.9)"/>
<ellipse cx="469.0" cy="197.1" rx="2.0" ry="1.7" fill="#969696" transform="rotate(171 469.0 197.1)"/>
<ellipse cx="473.8" cy="194.5" rx="2.7" ry="1.2" fill="#4a4a4a" transform="rotate(108 473.8 194.5)"/>
<ellipse cx="470.8" cy="181.8" rx="2.0" ry="1.3" fill="#b8b8b8" transform="rotate(268 470.8 181.8)"/>
<ellipse cx="480.4" cy="195.7" rx="2.2" ry="0.9" fill="#2e2e2e" transform="rotate(95 480.4 195.7)"/>
<ellipse cx="487.9" cy="179.3" rx="2.6" ry="1.7" fill="#969696" transform="rotate(296 487.9 179.3)"/>
<ellipse cx="487.3" cy="179.7" rx="1.9" ry="0.9" fill="#c8c8c8" transform="rotate(281 487.3 179.7)"/>
<ellipse cx="484.3" cy="200.9" rx="3.0" ry="1.6" fill="#222" transform="rotate(63 484.3 200.9)"/>
<ellipse cx="493.4" cy="191.5" rx="2.3" ry="1.3" fill="#b8b8b8" transform="rotate(11 493.4 191.5)"/>
<ellipse cx="467.2" cy="178.0" rx="2.1" ry="1.5" fill="#969696" transform="rotate(223 467.2 178.0)"/>
<ellipse cx="465.4" cy="195.3" rx="1.4" ry="1.0" fill="#969696" transform="rotate(175 465.4 195.3)"/>
<ellipse cx="472.7" cy="193.3" rx="2.3" ry="1.8" fill="#b8b8b8" transform="rotate(119 472.7 193.3)"/>
<ellipse cx="491.9" cy="196.1" rx="1.6" ry="1.0" fill="#acacac" transform="rotate(-19 491.9 196.1)"/>
<ellipse cx="485.4" cy="189.9" rx="2.4" ry="1.8" fill="#4a4a4a" transform="rotate(49 485.4 189.9)"/>
<ellipse cx="476.1" cy="174.2" rx="2.3" ry="1.6" fill="#222" transform="rotate(282 476.1 174.2)"/>
<ellipse cx="466.4" cy="191.7" rx="2.7" ry="1.3" fill="#969696" transform="rotate(182 466.4 191.7)"/>
<ellipse cx="474.2" cy="192.8" rx="1.6" ry="1.0" fill="#969696" transform="rotate(120 474.2 192.8)"/>
<ellipse cx="482.7" cy="195.8" rx="2.2" ry="1.6" fill="#141414" transform="rotate(82 482.7 195.8)"/>
<ellipse cx="477.0" cy="180.3" rx="1.9" ry="1.7" fill="#3c3c3c" transform="rotate(286 477.0 180.3)"/>
<ellipse cx="473.2" cy="186.8" rx="2.4" ry="1.0" fill="#2e2e2e" transform="rotate(227 473.2 186.8)"/>
<ellipse cx="491.3" cy="185.5" rx="3.0" ry="1.0" fill="#3c3c3c" transform="rotate(352 491.3 185.5)"/>
<ellipse cx="465.7" cy="190.0" rx="2.3" ry="1.2" fill="#4a4a4a" transform="rotate(158 465.7 190.0)"/>
<ellipse cx="465.6" cy="201.9" rx="1.5" ry="1.5" fill="#b8b8b8" transform="rotate(167 465.6 201.9)"/>
<ellipse cx="489.6" cy="185.0" rx="1.9" ry="1.2" fill="#acacac" transform="rotate(354 489.6 185.0)"/>
<ellipse cx="466.2" cy="196.3" rx="2.7" ry="1.4" fill="#a0a0a0" transform="rotate(180 466.2 196.3)"/>
<ellipse cx="482.9" cy="198.9" rx="1.7" ry="1.3" fill="#2e2e2e" transform="rotate(37 482.9 198.9)"/>
<ellipse cx="481.2" cy="183.1" rx="2.4" ry="1.4" fill="#141414" transform="rotate(301 481.2 183.1)"/>
<ellipse cx="488.2" cy="186.8" rx="2.1" ry="1.2" fill="#dcdcdc" transform="rotate(323 488.2 186.8)"/>
<ellipse cx="483.0" cy="185.5" rx="2.2" ry="1.5" fill="#3c3c3c" transform="rotate(337 483.0 185.5)"/>
<ellipse cx="474.1" cy="180.4" rx="1.5" ry="1.5" fill="#141414" transform="rotate(236 474.1 180.4)"/>
<ellipse cx="472.0" cy="182.0" rx="2.1" ry="1.2" fill="#4a4a4a" transform="rotate(218 472.0 182.0)"/>
<ellipse cx="473.0" cy="191.3" rx="2.2" ry="1.1" fill="#141414" transform="rotate(120 473.0 191.3)"/>
<ellipse cx="478.9" cy="178.0" rx="2.4" ry="1.7" fill="#969696" transform="rotate(245 478.9 178.0)"/>
<ellipse cx="478.8" cy="204.0" rx="2.7" ry="1.6" fill="#c8c8c8" transform="rotate(45 478.8 204.0)"/>
<ellipse cx="480.8" cy="203.4" rx="1.8" ry="1.4" fill="#222" transform="rotate(115 480.8 203.4)"/>
<ellipse cx="487.4" cy="197.3" rx="2.7" ry="1.5" fill="#4a4a4a" transform="rotate(33 487.4 197.3)"/>
<ellipse cx="489.0" cy="191.0" rx="1.5" ry="1.4" fill="#3c3c3c" transform="rotate(49 489.0 191.0)"/>
<ellipse cx="461.2" cy="193.4" rx="2.0" ry="0.9" fill="#c8c8c8" transform="rotate(164 461.2 193.4)"/>
<ellipse cx="470.7" cy="192.5" rx="2.2" ry="1.5" fill="#141414" transform="rotate(198 470.7 192.5)"/>
<ellipse cx="478.6" cy="199.4" rx="2.2" ry="1.6" fill="#b8b8b8" transform="rotate(97 478.6 199.4)"/>
<ellipse cx="486.3" cy="180.2" rx="2.0" ry="1.5" fill="#969696" transform="rotate(345 486.3 180.2)"/>
<ellipse cx="488.6" cy="198.8" rx="1.6" ry="1.8" fill="#222" transform="rotate(45 488.6 198.8)"/>
<ellipse cx="483.7" cy="202.3" rx="2.7" ry="0.9" fill="#f6f6f6" transform="rotate(28 483.7 202.3)"/>
<ellipse cx="464.8" cy="192.3" rx="2.7" ry="1.6" fill="#222" transform="rotate(143 464.8 192.3)"/>
<ellipse cx="476.9" cy="179.1" rx="2.9" ry="1.2" fill="#141414" transform="rotate(251 476.9 179.1)"/>
<ellipse cx="468.2" cy="183.2" rx="2.3" ry="1.4" fill="#141414" transform="rotate(224 468.2 183.2)"/>
<ellipse cx="493.5" cy="188.3" rx="1.6" ry="1.7" fill="#969696" transform="rotate(397 493.5 188.3)"/>
<ellipse cx="477.4" cy="201.1" rx="2.8" ry="1.0" fill="#acacac" transform="rotate(132 477.4 201.1)"/>
<ellipse cx="464.6" cy="180.9" rx="3.0" ry="1.6" fill="#eaeaea" transform="rotate(213 464.6 180.9)"/>
<ellipse cx="485.0" cy="184.8" rx="2.5" ry="1.3" fill="#2e2e2e" transform="rotate(298 485.0 184.8)"/>
<ellipse cx="477.4" cy="193.5" rx="2.2" ry="1.6" fill="#3c3c3c" transform="rotate(45 477.4 193.5)"/>
<ellipse cx="481.5" cy="203.8" rx="2.5" ry="1.8" fill="#b8b8b8" transform="rotate(107 481.5 203.8)"/>
<ellipse cx="470.5" cy="178.6" rx="2.5" ry="1.8" fill="#3c3c3c" transform="rotate(206 470.5 178.6)"/>
<ellipse cx="471.6" cy="183.6" rx="1.9" ry="1.8" fill="#141414" transform="rotate(252 471.6 183.6)"/>
<ellipse cx="464.8" cy="188.4" rx="1.7" ry="1.7" fill="#222" transform="rotate(193 464.8 188.4)"/>
<ellipse cx="482.4" cy="200.3" rx="2.6" ry="1.5" fill="#222" transform="rotate(81 482.4 200.3)"/>
<ellipse cx="488.3" cy="192.4" rx="1.7" ry="1.0" fill="#f6f6f6" transform="rotate(59 488.3 192.4)"/>
<ellipse cx="464.9" cy="181.2" rx="2.9" ry="1.8" fill="#acacac" transform="rotate(248 464.9 181.2)"/>
<ellipse cx="493.1" cy="186.8" rx="2.2" ry="1.5" fill="#acacac" transform="rotate(325 493.1 186.8)"/>
<ellipse cx="466.1" cy="196.8" rx="2.8" ry="1.5" fill="#c8c8c8" transform="rotate(134 466.1 196.8)"/>
<ellipse cx="492.3" cy="193.2" rx="2.4" ry="1.6" fill="#222" transform="rotate(21 492.3 193.2)"/>
<ellipse cx="469.6" cy="178.1" rx="2.6" ry="1.0" fill="#141414" transform="rotate(222 469.6 178.1)"/>
<ellipse cx="479.6" cy="199.6" rx="2.7" ry="1.4" fill="#c8c8c8" transform="rotate(104 479.6 199.6)"/>
<ellipse cx="483.1" cy="192.2" rx="3.0" ry="0.9" fill="#2e2e2e" transform="rotate(-14 483.1 192.2)"/>
<ellipse cx="492.1" cy="190.4" rx="2.6" ry="1.0" fill="#969696" transform="rotate(19 492.1 190.4)"/><ellipse cx="472" cy="188" rx="4" ry="2.5" fill="#1a1a1a"/><ellipse cx="480" cy="193" rx="3.5" ry="2.5" fill="#222"/><ellipse cx="468" cy="183" rx="2" ry="1.5" fill="#2a2a2a"/><ellipse cx="470" cy="176" rx="4" ry="2" fill="#f2f2f2"/><ellipse cx="462" cy="196" rx="3" ry="1.5" fill="#eee" transform="rotate(30 462 196)"/><ellipse cx="490" cy="197" rx="2.5" ry="2" fill="#e8e8e8"/></g>
<rect x="441.8" y="154.4" width="69" height="69.5" fill="#000" filter="url(#grain)" opacity="0.12"/>
<rect x="357.8" y="154.9" width="68.3" height="68.5" fill="none" stroke="#5a5a5a" stroke-width="1" opacity="0.6"/>
<rect x="442.3" y="154.9" width="68" height="68.5" fill="none" stroke="#5a5a5a" stroke-width="1" opacity="0.6"/>
<text x="358.7" y="153" font-size="9.3" font-weight="bold" text-anchor="start" fill="#000">Sema4D<tspan font-size="7.44" dy="-3.07">(+/+)</tspan></text>
<circle cx="418.3" cy="150.4" r="2.7" fill="#000"/>
<text x="442.5" y="153" font-size="9.3" font-weight="bold" text-anchor="start" fill="#000">Sema4D<tspan font-size="7.44" dy="-3.07">(-/-)</tspan></text>
<circle cx="496.6" cy="150.4" r="2.3" fill="#fff" stroke="#000" stroke-width="0.9"/>
<text x="14.0" y="298.3" font-size="14" font-weight="bold" text-anchor="start" fill="#000" >C</text>
<text x="33.6" y="299.6" font-size="11.5" font-weight="bold" text-anchor="start" fill="#000" >Control</text>
<text x="279.0" y="298.3" font-size="14" font-weight="bold" text-anchor="start" fill="#000" >D</text>
<text x="295" y="299.8" font-size="11.65" font-weight="bold">Leo.H4 anti-<tspan font-weight="normal" font-size="12.5">α</tspan><tspan font-size="7.3" dy="2.6">IIb</tspan><tspan dy="-2.6" font-weight="normal" font-size="12">β</tspan><tspan font-size="7.5" dy="2.6">3</tspan></text>
<text x="75" y="315.7" font-size="9.45" text-anchor="start" fill="#000">Sema4D<tspan font-size="7.56" dy="-3.12">(+/+)</tspan></text>
<text x="170.7" y="315.5" font-size="9.45" text-anchor="start" fill="#000">Sema4D<tspan font-size="7.56" dy="-3.12">(-/-)</tspan></text>
<text x="317" y="317" font-size="9.45" text-anchor="start" fill="#000">Sema4D<tspan font-size="7.56" dy="-3.12">(+/+)</tspan></text>
<text x="411.9" y="317" font-size="9.45" text-anchor="start" fill="#000">Sema4D<tspan font-size="7.56" dy="-3.12">(-/-)</tspan></text>
<rect x="52.4" y="320.8" width="95.5" height="65.1" fill="#000"/>
<g filter="url(#blur1)">
<path d="M56.3 340 Q56.5 339.3 60 339.2 L129 336.3 L132.5 337.8 L132 342 L118 344.5 L100 346.5 L56.3 349 Z" fill="url(#ubandG)"/>
<path d="M56.3 348.5 L100 346.5 L118 348 L126 351.5 L133 359 L138.5 366.5 L138 368 L58 369.2 Q56.3 369 56.3 367 Z" fill="#1da81d"/>
<ellipse cx="107" cy="359" rx="23" ry="9" fill="#28de24"/>
<ellipse cx="106" cy="359.5" rx="15" ry="6.5" fill="#34f82e"/>
<ellipse cx="68" cy="360" rx="14" ry="8" fill="#127012"/>
<ellipse cx="72" cy="343.5" rx="14" ry="3.5" fill="#26c826"/>
<path d="M96 347 L118 346.5 L133 345" stroke="#0a300a" stroke-width="2.2" fill="none"/>
</g>
<rect x="56" y="336" width="84" height="34" fill="#000" filter="url(#speck)" opacity="0.3" clip-path="url(#clipCL)"/>
<text x="58.699999999999996" y="329.40000000000003" font-size="4.9" text-anchor="start" fill="#fff" >00:04:00.434</text>
<text x="137.6" y="328.2" font-size="4.8" text-anchor="end" fill="#fff" >2200</text>
<text x="137.6" y="339.3" font-size="4.8" text-anchor="end" fill="#fff" >90</text>
<rect x="138.1" y="323.1" width="3.4" height="17.5" fill="url(#cbar)" stroke="#bbb" stroke-width="0.5"/>
<line x1="57.699999999999996" y1="374.2" x2="62.0" y2="374.2" stroke="#fff" stroke-width="1"/>
<text x="59.699999999999996" y="381.8" font-size="5.5" text-anchor="start" fill="#fff" >10 um</text>
<rect x="151.2" y="321.8" width="95.6" height="65.3" fill="#000"/>
<g filter="url(#blur1)">
<path d="M156.6 343.5 Q157 342 160 342 L204 341.5 Q210.5 342.5 210.3 349 L209 355.5 L199 357 L203 365 L205 369.5 L158 370.2 Q156.6 370 156.6 368 Z" fill="#0d420d"/>
<ellipse cx="171" cy="352" rx="14" ry="8" fill="#145c14"/>
<ellipse cx="190" cy="350" rx="10" ry="6" fill="#104e10"/>
</g>
<rect x="155" y="340" width="58" height="32" fill="#000" filter="url(#speck)" opacity="0.25" clip-path="url(#clipCR)"/>
<text x="157.5" y="330.40000000000003" font-size="4.9" text-anchor="start" fill="#fff" >00:04:00.356</text>
<text x="236.49999999999997" y="329.2" font-size="4.8" text-anchor="end" fill="#fff" >2200</text>
<text x="236.49999999999997" y="340.3" font-size="4.8" text-anchor="end" fill="#fff" >90</text>
<rect x="237.0" y="324.1" width="3.4" height="17.5" fill="url(#cbar)" stroke="#bbb" stroke-width="0.5"/>
<line x1="156.5" y1="375.4" x2="160.79999999999998" y2="375.4" stroke="#fff" stroke-width="1"/>
<text x="158.5" y="383.0" font-size="5.5" text-anchor="start" fill="#fff" >10 um</text>
<rect x="292.9" y="321.8" width="93.6" height="63.3" fill="#000"/>
<rect x="295.5" y="338.3" width="88" height="31" fill="url(#dlG)" filter="url(#blur1)"/>
<rect x="295.5" y="338.3" width="88" height="31" fill="url(#dlD)" filter="url(#dots)" opacity="0.55"/>
<text x="299.2" y="330.40000000000003" font-size="4.9" text-anchor="start" fill="#fff" >00:04:00.793</text>
<text x="376.2" y="329.2" font-size="4.8" text-anchor="end" fill="#fff" >825</text>
<text x="376.2" y="340.3" font-size="4.8" text-anchor="end" fill="#fff" >90</text>
<rect x="376.7" y="324.1" width="3.4" height="17.5" fill="url(#cbar)" stroke="#bbb" stroke-width="0.5"/>
<line x1="298.2" y1="373.4" x2="302.5" y2="373.4" stroke="#fff" stroke-width="1"/>
<text x="300.2" y="381.0" font-size="5.5" text-anchor="start" fill="#fff" >10 um</text>
<rect x="390.1" y="322.4" width="89.8" height="61.5" fill="#000"/>
<rect x="393.3" y="336.4" width="83.5" height="30.7" fill="url(#drG)" filter="url(#blur1)"/>
<rect x="393.3" y="336.4" width="83.5" height="30.7" fill="url(#drD)" filter="url(#dots2)" opacity="0.45"/>
<text x="396.40000000000003" y="331.0" font-size="4.9" text-anchor="start" fill="#fff" >00:04:00.438</text>
<text x="469.6" y="329.79999999999995" font-size="4.8" text-anchor="end" fill="#fff" >825</text>
<text x="469.6" y="340.9" font-size="4.8" text-anchor="end" fill="#fff" >90</text>
<rect x="470.1" y="324.7" width="3.4" height="17.5" fill="url(#cbar)" stroke="#bbb" stroke-width="0.5"/>
<line x1="395.40000000000003" y1="372.2" x2="399.70000000000005" y2="372.2" stroke="#fff" stroke-width="1"/>
<text x="397.40000000000003" y="379.8" font-size="5.5" text-anchor="start" fill="#fff" >10 um</text>
<text x="16.3" y="397.7" font-size="13.5" font-weight="bold" text-anchor="start" fill="#000" >E</text>
<polygon points="76.8,568.4 77.4,567.9 78.0,567.3 78.5,566.5 79.1,566.5 79.7,565.6 80.3,566.9 80.9,565.6 81.5,564.2 82.0,564.3 82.6,563.3 83.2,564.4 83.8,563.3 84.4,563.2 85.0,562.2 85.5,561.6 86.1,562.3 86.7,561.4 87.3,560.8 87.9,559.1 88.5,558.9 89.0,559.6 89.6,557.9 90.2,558.7 90.8,557.2 91.4,557.6 92.0,557.4 92.5,555.1 93.1,555.9 93.7,555.3 94.3,553.3 94.9,552.9 95.5,553.6 96.0,551.7 96.6,552.0 97.2,551.2 97.8,551.6 98.4,549.6 99.0,549.6 99.5,548.5 100.1,548.1 100.7,548.7 101.3,548.0 101.9,547.8 102.5,547.3 103.0,546.8 103.6,545.7 104.2,544.5 104.8,545.1 105.4,543.1 106.0,543.2 106.5,542.6 107.1,541.0 107.7,541.1 108.3,540.8 108.9,539.8 109.5,538.8 110.0,539.4 110.6,537.0 111.2,538.3 111.8,536.2 112.4,535.4 113.0,536.4 113.5,534.3 114.1,534.5 114.7,533.5 115.3,534.0 115.9,533.3 116.5,532.4 117.0,530.3 117.6,531.2 118.2,529.5 118.8,528.5 119.4,527.7 120.0,527.9 120.5,526.7 121.1,525.2 121.7,523.6 122.3,523.7 122.9,521.3 123.5,520.1 124.1,518.8 124.6,519.3 125.2,516.3 125.8,516.8 126.4,515.2 127.0,513.5 127.6,511.7 128.1,511.7 128.7,509.4 129.3,509.0 129.9,508.3 130.5,507.2 131.1,506.3 131.6,505.3 132.2,504.2 132.8,502.3 133.4,500.9 134.0,501.9 134.6,501.4 135.1,498.9 135.7,499.1 136.3,498.6 136.9,498.3 137.5,496.9 138.1,495.7 138.6,495.8 139.2,495.1 139.8,495.2 140.4,492.8 141.0,493.8 141.6,492.2 142.1,490.8 142.7,491.5 143.3,489.7 143.9,488.5 144.5,488.5 145.1,487.5 145.6,488.1 146.2,486.8 146.8,486.6 147.4,484.6 148.0,485.0 148.6,483.9 149.1,482.1 149.7,481.5 150.3,480.5 150.9,480.7 151.5,479.8 152.1,478.5 152.6,478.2 153.2,477.7 153.8,476.7 154.4,476.4 155.0,475.1 155.6,473.1 156.1,472.3 156.7,472.2 157.3,471.6 157.9,471.2 158.5,471.1 159.1,470.3 159.6,468.8 160.2,468.2 160.8,468.7 161.4,467.4 162.0,467.0 162.6,466.6 163.1,466.2 163.7,465.6 164.3,465.9 164.9,464.8 165.5,465.1 166.1,464.3 166.6,463.2 167.2,462.9 167.8,463.3 168.4,461.7 169.0,462.1 169.6,462.0 170.1,463.0 170.7,461.7 171.3,462.1 171.9,461.0 172.5,461.2 173.1,460.3 173.6,460.4 174.2,459.9 174.8,460.6 175.4,459.8 176.0,459.4 176.6,459.0 177.1,459.8 177.7,458.5 178.3,458.0 178.9,457.8 179.5,456.7 180.1,456.3 180.6,456.6 181.2,456.1 181.8,456.3 182.4,454.4 183.0,453.7 183.6,454.1 184.1,453.1 184.7,452.6 185.3,452.0 185.9,452.6 186.5,450.9 187.1,450.7 187.6,450.0 188.2,450.0 188.8,449.1 189.4,448.5 190.0,448.4 190.6,447.9 191.1,448.9 191.7,448.4 192.3,447.5 192.9,446.7 193.5,447.2 194.1,446.0 194.6,445.8 195.2,446.6 195.8,445.4 196.4,445.6 197.0,445.6 197.6,445.1 198.1,444.4 198.7,444.3 199.3,444.0 199.9,444.1 200.5,443.1 201.1,443.1 201.6,442.5 202.2,442.4 202.8,442.9 203.4,441.4 204.0,443.1 204.6,442.1 205.1,442.2 205.7,441.8 206.3,442.2 206.9,440.6 207.5,441.3 208.1,441.8 208.6,440.5 209.2,440.9 209.8,438.9 210.4,437.7 211.0,435.7 211.6,433.7 212.1,433.1 212.7,433.3 213.3,432.9 213.9,434.5 214.5,437.1 215.1,439.0 215.6,438.9 216.2,439.0 216.8,438.3 217.4,438.3 218.0,439.1 218.6,439.6 219.1,438.6 219.7,440.4 220.3,440.3 220.9,439.4 221.5,439.4 222.1,440.4 222.6,439.4 223.2,439.0 223.8,440.0 224.4,440.0 225.0,440.5 225.6,440.4 226.1,439.1 226.7,440.3 227.3,439.2 227.9,439.4 228.5,440.0 229.1,440.8 229.6,439.4 230.2,440.4 230.8,440.6 231.4,440.8 232.0,439.6 232.6,440.6 233.1,441.1 233.7,440.7 234.3,441.5 234.9,440.6 235.5,441.0 236.1,441.3 236.6,440.4 237.2,440.4 237.8,442.0 238.4,441.1 239.0,441.6 239.6,440.4 240.1,440.7 240.7,441.8 241.3,441.8 241.3,503.7 240.7,503.7 240.1,503.6 239.6,503.6 239.0,503.5 238.4,503.4 237.8,503.4 237.2,503.3 236.6,503.2 236.1,503.1 235.5,503.1 234.9,503.0 234.3,502.9 233.7,502.9 233.1,502.8 232.6,502.7 232.0,502.7 231.4,502.6 230.8,502.5 230.2,502.4 229.6,502.4 229.1,502.3 228.5,502.2 227.9,502.2 227.3,502.1 226.7,502.0 226.1,501.9 225.6,501.9 225.0,501.8 224.4,501.7 223.8,501.7 223.2,501.6 222.6,501.5 222.1,501.4 221.5,501.4 220.9,501.3 220.3,501.2 219.7,501.2 219.1,501.1 218.6,501.0 218.0,501.0 217.4,500.9 216.8,500.8 216.2,500.8 215.6,500.7 215.1,500.7 214.5,500.6 213.9,500.6 213.3,500.5 212.7,500.5 212.1,500.4 211.6,500.4 211.0,500.3 210.4,500.3 209.8,500.2 209.2,500.2 208.6,500.1 208.1,500.1 207.5,500.0 206.9,500.0 206.3,499.9 205.7,499.9 205.1,499.8 204.6,499.8 204.0,499.7 203.4,499.7 202.8,499.6 202.2,499.6 201.6,499.6 201.1,499.5 200.5,499.5 199.9,499.5 199.3,499.5 198.7,499.6 198.1,499.8 197.6,500.0 197.0,500.2 196.4,500.4 195.8,500.6 195.2,500.9 194.6,501.1 194.1,501.3 193.5,501.5 192.9,501.7 192.3,501.9 191.7,502.2 191.1,502.4 190.6,502.6 190.0,502.8 189.4,503.0 188.8,503.2 188.2,503.4 187.6,503.7 187.1,503.9 186.5,504.1 185.9,504.3 185.3,504.5 184.7,504.7 184.1,505.0 183.6,505.2 183.0,505.4 182.4,505.6 181.8,505.8 181.2,506.0 180.6,506.2 180.1,506.5 179.5,506.7 178.9,507.0 178.3,507.4 177.7,507.8 177.1,508.3 176.6,508.7 176.0,509.2 175.4,509.7 174.8,510.1 174.2,510.6 173.6,511.0 173.1,511.5 172.5,512.0 171.9,512.4 171.3,512.9 170.7,513.3 170.1,513.8 169.6,514.3 169.0,514.7 168.4,515.2 167.8,515.6 167.2,516.1 166.6,516.6 166.1,517.0 165.5,517.5 164.9,517.9 164.3,518.3 163.7,518.7 163.1,519.1 162.6,519.5 162.0,519.8 161.4,520.2 160.8,520.5 160.2,520.9 159.6,521.2 159.1,521.6 158.5,521.9 157.9,522.3 157.3,522.6 156.7,523.0 156.1,523.3 155.6,523.7 155.0,524.1 154.4,524.4 153.8,524.8 153.2,525.1 152.6,525.5 152.1,525.8 151.5,526.2 150.9,526.5 150.3,526.9 149.7,527.2 149.1,527.6 148.6,528.0 148.0,528.5 147.4,528.9 146.8,529.4 146.2,529.9 145.6,530.4 145.1,530.9 144.5,531.4 143.9,531.9 143.3,532.4 142.7,532.9 142.1,533.3 141.6,533.8 141.0,534.3 140.4,534.8 139.8,535.3 139.2,535.8 138.6,536.3 138.1,536.8 137.5,537.3 136.9,537.8 136.3,538.3 135.7,538.8 135.1,539.3 134.6,539.8 134.0,540.3 133.4,540.8 132.8,541.3 132.2,541.8 131.6,542.3 131.1,542.8 130.5,543.3 129.9,543.8 129.3,544.3 128.7,544.8 128.1,545.3 127.6,545.8 127.0,546.3 126.4,546.8 125.8,547.3 125.2,547.8 124.6,548.3 124.1,548.8 123.5,549.3 122.9,549.8 122.3,550.3 121.7,550.8 121.1,551.3 120.5,551.8 120.0,552.3 119.4,552.8 118.8,553.2 118.2,553.6 117.6,553.9 117.0,554.2 116.5,554.5 115.9,554.8 115.3,555.1 114.7,555.3 114.1,555.6 113.5,555.9 113.0,556.2 112.4,556.5 111.8,556.8 111.2,557.1 110.6,557.3 110.0,557.6 109.5,557.9 108.9,558.2 108.3,558.5 107.7,558.8 107.1,559.1 106.5,559.3 106.0,559.6 105.4,559.9 104.8,560.2 104.2,560.5 103.6,560.8 103.0,561.1 102.5,561.3 101.9,561.6 101.3,561.9 100.7,562.2 100.1,562.5 99.5,562.8 99.0,563.1 98.4,563.3 97.8,563.6 97.2,563.9 96.6,564.2 96.0,564.5 95.5,564.8 94.9,565.1 94.3,565.3 93.7,565.6 93.1,565.9 92.5,566.2 92.0,566.5 91.4,566.8 90.8,567.1 90.2,567.3 89.6,567.6 89.0,567.8 88.5,568.0 87.9,568.1 87.3,568.3 86.7,568.4 86.1,568.6 85.5,568.8 85.0,568.9 84.4,569.1 83.8,569.3 83.2,569.4 82.6,569.6 82.0,569.7 81.5,569.9 80.9,570.1 80.3,570.2 79.7,570.4 79.1,570.6 78.5,570.7 78.0,570.9 77.4,571.0 76.8,571.1" fill="#e4e4e4"/>
<polygon points="75.0,570.4 75.6,570.3 76.2,570.2 76.8,570.1 77.4,570.0 78.0,569.8 78.5,569.6 79.1,569.4 79.7,569.1 80.3,568.9 80.9,568.6 81.5,568.4 82.0,568.1 82.6,567.9 83.2,567.6 83.8,567.2 84.4,566.7 85.0,566.3 85.5,565.8 86.1,565.4 86.7,564.9 87.3,564.5 87.9,564.0 88.5,563.5 89.0,563.1 89.6,562.6 90.2,562.2 90.8,561.7 91.4,561.3 92.0,560.8 92.5,560.3 93.1,559.8 93.7,559.3 94.3,558.8 94.9,558.3 95.5,557.8 96.0,557.3 96.6,556.8 97.2,556.3 97.8,555.7 98.4,555.2 99.0,554.7 99.5,554.2 100.1,553.7 100.7,553.2 101.3,552.7 101.9,552.2 102.5,551.7 103.0,551.1 103.6,550.6 104.2,550.1 104.8,549.6 105.4,549.1 106.0,548.6 106.5,548.1 107.1,547.6 107.7,547.1 108.3,546.5 108.9,546.0 109.5,545.5 110.0,545.0 110.6,544.5 111.2,544.0 111.8,543.5 112.4,543.0 113.0,542.5 113.5,542.1 114.1,541.7 114.7,541.3 115.3,541.0 115.9,540.6 116.5,540.2 117.0,539.8 117.6,539.4 118.2,539.1 118.8,538.7 119.4,538.3 120.0,537.9 120.5,537.6 121.1,537.2 121.7,536.8 122.3,536.4 122.9,536.1 123.5,535.7 124.1,535.3 124.6,534.9 125.2,534.5 125.8,534.2 126.4,533.8 127.0,533.4 127.6,533.0 128.1,532.7 128.7,532.3 129.3,531.9 129.9,531.6 130.5,531.4 131.1,531.1 131.6,530.8 132.2,530.5 132.8,530.2 133.4,530.0 134.0,529.7 134.6,529.4 135.1,529.1 135.7,528.8 136.3,528.6 136.9,528.3 137.5,528.0 138.1,527.7 138.6,527.5 139.2,527.2 139.8,526.9 140.4,526.6 141.0,526.3 141.6,526.1 142.1,525.8 142.7,525.5 143.3,525.2 143.9,525.0 144.5,524.7 145.1,524.4 145.6,524.1 146.2,523.8 146.8,523.6 147.4,523.3 148.0,523.0 148.6,522.7 149.1,522.5 149.7,522.2 150.3,521.9 150.9,521.6 151.5,521.3 152.1,521.1 152.6,520.8 153.2,520.6 153.8,520.5 154.4,520.4 155.0,520.2 155.6,520.1 156.1,519.9 156.7,519.8 157.3,519.6 157.9,519.5 158.5,519.3 159.1,519.2 159.6,519.0 160.2,518.9 160.8,518.7 161.4,518.6 162.0,518.4 162.6,518.3 163.1,518.2 163.7,518.0 164.3,518.0 164.9,517.9 165.5,517.9 166.1,517.9 166.6,517.8 167.2,517.8 167.8,517.7 168.4,517.7 169.0,517.7 169.6,517.6 170.1,517.6 170.7,517.5 171.3,517.5 171.9,517.5 172.5,517.4 173.1,517.4 173.6,517.3 174.2,517.3 174.8,517.3 175.4,517.2 176.0,517.2 176.6,517.2 177.1,517.2 177.7,517.3 178.3,517.3 178.9,517.3 179.5,517.3 180.1,517.3 180.6,517.3 181.2,517.3 181.8,517.3 182.4,517.3 183.0,517.3 183.6,517.3 184.1,517.3 184.7,517.4 185.3,517.4 185.9,517.4 186.5,517.4 187.1,517.4 187.6,517.4 188.2,517.4 188.8,517.4 189.4,517.4 190.0,517.4 190.6,517.4 191.1,517.4 191.7,517.4 192.3,517.5 192.9,517.5 193.5,517.5 194.1,517.5 194.6,517.5 195.2,517.5 195.8,517.5 196.4,517.5 197.0,517.5 197.6,517.5 198.1,517.5 198.7,517.5 199.3,517.5 199.9,517.5 200.5,517.5 201.1,517.6 201.6,517.6 202.2,517.6 202.8,517.6 203.4,517.6 204.0,517.6 204.6,517.6 205.1,517.6 205.7,517.6 206.3,517.6 206.9,517.6 207.5,517.7 208.1,517.7 208.6,517.7 209.2,517.7 209.8,517.8 210.4,517.8 211.0,517.8 211.6,517.9 212.1,517.9 212.7,517.9 213.3,517.9 213.9,518.0 214.5,518.0 215.1,518.0 215.6,518.0 216.2,518.1 216.8,518.1 217.4,518.1 218.0,518.2 218.6,518.2 219.1,518.3 219.7,518.4 220.3,518.5 220.9,518.7 221.5,518.9 222.1,519.0 222.6,519.4 223.2,520.0 223.8,520.8 224.4,521.6 225.0,522.2 225.6,522.6 226.1,522.9 226.7,523.2 227.3,523.4 227.9,523.7 228.5,523.9 229.1,524.0 229.6,524.1 230.2,524.1 230.8,524.2 231.4,524.2 232.0,524.3 232.6,524.3 233.1,524.4 233.7,524.5 234.3,524.5 234.9,524.6 235.5,524.6 236.1,524.7 236.6,524.7 237.2,524.8 237.8,524.8 238.4,524.9 239.0,524.9 239.6,525.0 240.1,525.0 240.7,525.1 241.3,525.1 241.3,541.0 240.7,541.0 240.1,540.9 239.6,540.9 239.0,540.8 238.4,540.8 237.8,540.7 237.2,540.7 236.6,540.6 236.1,540.5 235.5,540.5 234.9,540.4 234.3,540.4 233.7,540.3 233.1,540.3 232.6,540.2 232.0,540.2 231.4,540.1 230.8,540.1 230.2,540.0 229.6,540.0 229.1,539.9 228.5,539.8 227.9,539.6 227.3,539.3 226.7,539.1 226.1,538.8 225.6,538.5 225.0,538.1 224.4,537.5 223.8,536.7 223.2,535.9 222.6,535.3 222.1,534.9 221.5,534.8 220.9,534.6 220.3,534.4 219.7,534.3 219.1,534.1 218.6,534.1 218.0,534.0 217.4,534.0 216.8,534.0 216.2,534.0 215.6,533.9 215.1,533.9 214.5,533.9 213.9,533.8 213.3,533.8 212.7,533.8 212.1,533.8 211.6,533.7 211.0,533.7 210.4,533.7 209.8,533.7 209.2,533.6 208.6,533.6 208.1,533.6 207.5,533.5 206.9,533.5 206.3,533.5 205.7,533.5 205.1,533.5 204.6,533.5 204.0,533.5 203.4,533.5 202.8,533.5 202.2,533.4 201.6,533.4 201.1,533.4 200.5,533.4 199.9,533.4 199.3,533.4 198.7,533.4 198.1,533.4 197.6,533.4 197.0,533.4 196.4,533.4 195.8,533.4 195.2,533.4 194.6,533.4 194.1,533.4 193.5,533.3 192.9,533.3 192.3,533.3 191.7,533.3 191.1,533.3 190.6,533.3 190.0,533.3 189.4,533.3 188.8,533.3 188.2,533.3 187.6,533.3 187.1,533.3 186.5,533.3 185.9,533.3 185.3,533.2 184.7,533.2 184.1,533.2 183.6,533.2 183.0,533.2 182.4,533.2 181.8,533.2 181.2,533.2 180.6,533.2 180.1,533.2 179.5,533.2 178.9,533.1 178.3,533.1 177.7,533.1 177.1,533.1 176.6,533.1 176.0,533.1 175.4,533.1 174.8,533.1 174.2,533.2 173.6,533.2 173.1,533.3 172.5,533.3 171.9,533.3 171.3,533.4 170.7,533.4 170.1,533.5 169.6,533.5 169.0,533.5 168.4,533.6 167.8,533.6 167.2,533.7 166.6,533.7 166.1,533.7 165.5,533.8 164.9,533.8 164.3,533.9 163.7,533.9 163.1,534.0 162.6,534.2 162.0,534.3 161.4,534.5 160.8,534.6 160.2,534.8 159.6,534.9 159.1,535.1 158.5,535.2 157.9,535.4 157.3,535.5 156.7,535.6 156.1,535.8 155.6,535.9 155.0,536.1 154.4,536.2 153.8,536.4 153.2,536.5 152.6,536.7 152.1,536.9 151.5,537.2 150.9,537.5 150.3,537.8 149.7,538.1 149.1,538.3 148.6,538.6 148.0,538.9 147.4,539.2 146.8,539.4 146.2,539.7 145.6,540.0 145.1,540.3 144.5,540.6 143.9,540.8 143.3,541.1 142.7,541.4 142.1,541.7 141.6,542.0 141.0,542.2 140.4,542.5 139.8,542.8 139.2,543.1 138.6,543.3 138.1,543.6 137.5,543.9 136.9,544.2 136.3,544.5 135.7,544.7 135.1,545.0 134.6,545.3 134.0,545.6 133.4,545.8 132.8,546.1 132.2,546.4 131.6,546.7 131.1,547.0 130.5,547.2 129.9,547.5 129.3,547.8 128.7,548.2 128.1,548.5 127.6,548.9 127.0,549.3 126.4,549.7 125.8,550.0 125.2,550.4 124.6,550.8 124.1,551.2 123.5,551.6 122.9,551.9 122.3,552.3 121.7,552.7 121.1,553.1 120.5,553.4 120.0,553.8 119.4,554.2 118.8,554.6 118.2,555.0 117.6,555.3 117.0,555.7 116.5,556.1 115.9,556.5 115.3,556.8 114.7,557.2 114.1,557.6 113.5,558.0 113.0,558.3 112.4,558.6 111.8,558.8 111.2,559.1 110.6,559.3 110.0,559.6 109.5,559.8 108.9,560.1 108.3,560.3 107.7,560.5 107.1,560.8 106.5,561.0 106.0,561.3 105.4,561.5 104.8,561.8 104.2,562.0 103.6,562.3 103.0,562.5 102.5,562.8 101.9,563.0 101.3,563.3 100.7,563.5 100.1,563.8 99.5,564.0 99.0,564.3 98.4,564.5 97.8,564.7 97.2,565.0 96.6,565.2 96.0,565.5 95.5,565.7 94.9,566.0 94.3,566.2 93.7,566.5 93.1,566.7 92.5,567.0 92.0,567.2 91.4,567.4 90.8,567.5 90.2,567.7 89.6,567.9 89.0,568.1 88.5,568.3 87.9,568.5 87.3,568.7 86.7,568.9 86.1,569.1 85.5,569.3 85.0,569.4 84.4,569.6 83.8,569.8 83.2,569.9 82.6,570.0 82.0,570.0 81.5,570.0 80.9,569.9 80.3,569.9 79.7,569.9 79.1,569.9 78.5,569.9 78.0,569.8 77.4,570.0 76.8,570.1 76.2,570.2 75.6,570.3 75.0,570.4" fill="#cacaca"/>
<polygon points="79.1,570.8 79.7,570.7 80.3,570.5 80.9,570.4 81.5,570.2 82.0,570.1 82.6,569.9 83.2,569.8 83.8,569.7 84.4,569.5 85.0,569.4 85.5,569.3 86.1,569.1 86.7,569.0 87.3,568.9 87.9,568.8 88.5,568.7 89.0,568.5 89.6,568.4 90.2,568.3 90.8,568.2 91.4,568.1 92.0,568.0 92.5,567.9 93.1,567.8 93.7,567.7 94.3,567.6 94.9,567.5 95.5,567.4 96.0,567.3 96.6,567.2 97.2,567.1 97.8,567.0 98.4,567.0 99.0,566.9 99.5,566.8 100.1,566.7 100.7,566.6 101.3,566.6 101.9,566.5 102.5,566.4 103.0,566.3 103.6,566.3 104.2,566.2 104.8,566.1 105.4,566.0 106.0,566.0 106.5,565.9 107.1,565.8 107.7,565.8 108.3,565.7 108.9,565.7 109.5,565.6 110.0,565.5 110.6,565.5 111.2,565.4 111.8,565.4 112.4,565.3 113.0,565.2 113.5,565.2 114.1,565.1 114.7,565.1 115.3,565.0 115.9,565.0 116.5,564.9 117.0,564.9 117.6,564.8 118.2,564.8 118.8,564.8 119.4,564.7 120.0,564.7 120.5,564.6 121.1,564.6 121.7,564.5 122.3,564.5 122.9,564.5 123.5,564.4 124.1,564.4 124.6,564.3 125.2,564.3 125.8,564.3 126.4,564.2 127.0,564.2 127.6,564.2 128.1,564.1 128.7,564.1 129.3,564.1 129.9,564.0 130.5,564.0 131.1,564.0 131.6,563.9 132.2,563.9 132.8,563.9 133.4,563.9 134.0,563.8 134.6,563.8 135.1,563.8 135.7,563.7 136.3,563.7 136.9,563.7 137.5,563.7 138.1,563.6 138.6,563.6 139.2,563.6 139.8,563.6 140.4,563.5 141.0,563.5 141.6,563.5 142.1,563.5 142.7,563.5 143.3,563.4 143.9,563.4 144.5,563.4 145.1,563.4 145.6,563.4 146.2,563.3 146.8,563.3 147.4,563.3 148.0,563.3 148.6,563.3 149.1,563.2 149.7,563.2 150.3,563.2 150.9,563.2 151.5,563.2 152.1,563.2 152.6,563.1 153.2,563.1 153.8,563.1 154.4,563.1 155.0,563.1 155.6,563.1 156.1,563.1 156.7,563.0 157.3,563.0 157.9,563.0 158.5,563.0 159.1,563.0 159.6,563.0 160.2,563.0 160.8,562.9 161.4,562.9 162.0,562.9 162.6,562.9 163.1,562.9 163.7,562.9 164.3,562.9 164.9,562.9 165.5,562.9 166.1,562.8 166.6,562.8 167.2,562.8 167.8,562.8 168.4,562.8 169.0,562.8 169.6,562.8 170.1,562.8 170.7,562.8 171.3,562.8 171.9,562.8 172.5,562.7 173.1,562.7 173.6,562.7 174.2,562.7 174.8,562.7 175.4,562.7 176.0,562.7 176.6,562.7 177.1,562.7 177.7,562.7 178.3,562.7 178.9,562.7 179.5,562.7 180.1,562.6 180.6,562.6 181.2,562.6 181.8,562.6 182.4,562.6 183.0,562.6 183.6,562.6 184.1,562.6 184.7,562.6 185.3,562.6 185.9,562.6 186.5,562.6 187.1,562.6 187.6,562.6 188.2,562.6 188.8,562.6 189.4,562.6 190.0,562.5 190.6,562.5 191.1,562.5 191.7,562.5 192.3,562.5 192.9,562.5 193.5,562.5 194.1,562.5 194.6,562.5 195.2,562.5 195.8,562.5 196.4,562.5 197.0,562.5 197.6,562.5 198.1,562.5 198.7,562.5 199.3,562.5 199.9,562.5 200.5,562.5 201.1,562.5 201.6,562.5 202.2,562.5 202.8,562.5 203.4,562.5 204.0,562.5 204.6,562.4 205.1,562.4 205.7,562.4 206.3,562.4 206.9,562.4 207.5,562.4 208.1,562.4 208.6,562.4 209.2,562.4 209.8,562.4 210.4,562.4 211.0,562.4 211.6,562.4 212.1,562.4 212.7,562.4 213.3,562.4 213.9,562.4 214.5,562.4 215.1,562.4 215.6,562.4 216.2,562.4 216.8,562.4 217.4,562.4 218.0,562.4 218.6,562.4 219.1,562.4 219.7,562.4 220.3,562.4 220.9,562.4 221.5,562.4 222.1,562.4 222.6,562.4 223.2,562.4 223.8,562.4 224.4,562.4 225.0,562.4 225.6,562.4 226.1,562.4 226.7,562.4 227.3,562.4 227.9,562.4 228.5,562.4 229.1,562.4 229.6,562.4 230.2,562.4 230.8,562.4 231.4,562.4 232.0,562.3 232.6,562.3 233.1,562.3 233.7,562.3 234.3,562.3 234.9,562.3 235.5,562.3 236.1,562.3 236.6,562.3 237.2,562.3 237.8,562.3 238.4,562.3 239.0,562.3 239.6,562.3 240.1,562.3 240.7,562.3 241.3,562.3 241.3,567.3 240.7,567.3 240.1,567.3 239.6,567.3 239.0,567.3 238.4,567.3 237.8,567.3 237.2,567.3 236.6,567.3 236.1,567.3 235.5,567.3 234.9,567.3 234.3,567.3 233.7,567.3 233.1,567.3 232.6,567.3 232.0,567.3 231.4,567.3 230.8,567.3 230.2,567.3 229.6,567.3 229.1,567.3 228.5,567.3 227.9,567.3 227.3,567.3 226.7,567.3 226.1,567.3 225.6,567.3 225.0,567.3 224.4,567.3 223.8,567.3 223.2,567.3 222.6,567.3 222.1,567.3 221.5,567.3 220.9,567.3 220.3,567.3 219.7,567.3 219.1,567.3 218.6,567.3 218.0,567.4 217.4,567.4 216.8,567.4 216.2,567.4 215.6,567.4 215.1,567.4 214.5,567.4 213.9,567.4 213.3,567.4 212.7,567.4 212.1,567.4 211.6,567.4 211.0,567.4 210.4,567.4 209.8,567.4 209.2,567.4 208.6,567.4 208.1,567.4 207.5,567.4 206.9,567.4 206.3,567.4 205.7,567.4 205.1,567.4 204.6,567.4 204.0,567.4 203.4,567.4 202.8,567.4 202.2,567.4 201.6,567.4 201.1,567.4 200.5,567.4 199.9,567.4 199.3,567.4 198.7,567.4 198.1,567.4 197.6,567.5 197.0,567.5 196.4,567.5 195.8,567.5 195.2,567.5 194.6,567.5 194.1,567.5 193.5,567.5 192.9,567.5 192.3,567.5 191.7,567.5 191.1,567.5 190.6,567.5 190.0,567.5 189.4,567.5 188.8,567.5 188.2,567.5 187.6,567.5 187.1,567.5 186.5,567.5 185.9,567.5 185.3,567.6 184.7,567.6 184.1,567.6 183.6,567.6 183.0,567.6 182.4,567.6 181.8,567.6 181.2,567.6 180.6,567.6 180.1,567.6 179.5,567.6 178.9,567.6 178.3,567.6 177.7,567.6 177.1,567.6 176.6,567.6 176.0,567.7 175.4,567.7 174.8,567.7 174.2,567.7 173.6,567.7 173.1,567.7 172.5,567.7 171.9,567.7 171.3,567.7 170.7,567.7 170.1,567.7 169.6,567.7 169.0,567.8 168.4,567.8 167.8,567.8 167.2,567.8 166.6,567.8 166.1,567.8 165.5,567.8 164.9,567.8 164.3,567.8 163.7,567.9 163.1,567.9 162.6,567.9 162.0,567.9 161.4,567.9 160.8,567.9 160.2,567.9 159.6,567.9 159.1,567.9 158.5,568.0 157.9,568.0 157.3,568.0 156.7,568.0 156.1,568.0 155.6,568.0 155.0,568.0 154.4,568.1 153.8,568.1 153.2,568.1 152.6,568.1 152.1,568.1 151.5,568.1 150.9,568.2 150.3,568.2 149.7,568.2 149.1,568.2 148.6,568.2 148.0,568.2 147.4,568.3 146.8,568.3 146.2,568.3 145.6,568.3 145.1,568.3 144.5,568.4 143.9,568.4 143.3,568.4 142.7,568.4 142.1,568.4 141.6,568.5 141.0,568.5 140.4,568.5 139.8,568.5 139.2,568.6 138.6,568.6 138.1,568.6 137.5,568.6 136.9,568.6 136.3,568.7 135.7,568.7 135.1,568.7 134.6,568.8 134.0,568.8 133.4,568.8 132.8,568.8 132.2,568.9 131.6,568.9 131.1,568.9 130.5,569.0 129.9,569.0 129.3,569.0 128.7,569.1 128.1,569.1 127.6,569.1 127.0,569.2 126.4,569.2 125.8,569.2 125.2,569.3 124.6,569.3 124.1,569.3 123.5,569.4 122.9,569.4 122.3,569.5 121.7,569.5 121.1,569.5 120.5,569.6 120.0,569.6 119.4,569.7 118.8,569.7 118.2,569.8 117.6,569.8 117.0,569.9 116.5,569.9 115.9,570.0 115.3,570.0 114.7,570.1 114.1,570.1 113.5,570.2 113.0,570.2 112.4,570.3 111.8,570.3 111.2,570.4 110.6,570.4 110.0,570.5 109.5,570.6 108.9,570.6 108.3,570.7 107.7,570.7 107.1,570.8 106.5,570.9 106.0,570.9 105.4,571.0 104.8,571.1 104.2,571.1 103.6,571.2 103.0,571.3 102.5,571.4 101.9,571.4 101.3,571.5 100.7,571.6 100.1,571.7 99.5,571.8 99.0,571.8 98.4,571.9 97.8,572.0 97.2,572.1 96.6,572.2 96.0,572.3 95.5,572.4 94.9,572.4 94.3,572.4 93.7,572.4 93.1,572.4 92.5,572.4 92.0,572.4 91.4,572.4 90.8,572.4 90.2,572.4 89.6,572.4 89.0,572.4 88.5,572.4 87.9,572.4 87.3,572.4 86.7,572.4 86.1,572.4 85.5,572.4 85.0,572.4 84.4,572.4 83.8,572.4 83.2,572.4 82.6,572.4 82.0,572.4 81.5,572.4 80.9,572.4 80.3,572.4 79.7,572.4 79.1,572.4" fill="#c8d3ec"/>
<path d="M81.5 567.7V562.0M82.0 567.6V563.6M85.0 566.8V562.0M85.5 566.6V562.9M86.1 566.5V563.9M87.9 566.1V561.2M89.0 565.8V563.4M92.0 565.2V560.0M92.5 565.0V560.9M95.5 564.4V561.1M96.6 564.2V561.4M97.8 564.0V558.3M99.0 563.8V561.0M100.7 563.5V559.6M102.5 563.2V561.0M104.2 562.9V560.3M106.5 562.5V557.1M108.9 562.2V556.0M109.5 562.1V557.1M111.2 561.9V558.8M112.4 561.7V556.8M113.0 561.6V559.3M114.1 561.5V559.5M114.7 561.4V559.6M115.3 561.3V556.5M117.0 561.1V557.1M117.6 561.1V556.0M119.4 560.9V559.1M120.5 560.7V555.4M123.5 560.4V555.5M124.1 560.4V554.2M125.2 560.3V557.3M125.8 560.2V554.1M126.4 560.1V554.1M127.6 560.0V554.3M128.1 560.0V557.7M129.3 559.9V552.7M130.5 559.8V553.1M131.1 559.7V553.5M131.6 559.7V557.1M133.4 559.5V557.2M135.7 559.3V553.6M136.3 559.3V556.1M136.9 559.2V553.5M137.5 559.2V555.0M138.1 559.1V551.9M139.8 559.0V551.6M142.7 558.8V556.5M143.3 558.7V555.7M143.9 558.7V550.9M145.6 558.6V553.6M147.4 558.4V553.5M148.0 558.4V555.6M148.6 558.4V554.0M149.1 558.3V550.3M149.7 558.3V554.8M150.3 558.2V555.4M150.9 558.2V554.8M152.1 558.1V549.7M152.6 558.1V549.6M155.6 557.9V551.2M156.1 557.9V551.1M157.3 557.8V554.5M157.9 557.8V554.3M158.5 557.7V553.0M159.6 557.7V553.5M160.8 557.6V550.3M162.0 557.5V553.9M164.3 557.4V548.1M164.9 557.4V555.1M166.1 557.3V555.1M168.4 557.2V554.7M169.0 557.2V548.3M170.7 557.2V553.4M171.3 557.2V552.2M171.9 557.2V553.3M172.5 557.2V552.9M173.1 557.2V555.0M174.2 557.2V551.2M174.8 557.2V551.0M175.4 557.1V552.7M176.0 557.1V550.8M178.3 557.1V555.0M180.6 557.1V550.0M182.4 557.1V551.3M183.6 557.0V554.1M184.1 557.0V554.3M185.9 557.0V553.9M186.5 557.0V552.9M187.1 557.0V551.4M188.2 557.0V554.4M189.4 557.0V553.2M190.0 557.0V551.7M190.6 557.0V551.3M191.1 557.0V548.4M194.6 557.0V547.7M197.6 556.9V547.6M198.1 556.9V553.7M198.7 556.9V553.3M199.3 556.9V548.8M199.9 556.9V554.2M201.6 556.9V554.3M202.2 556.9V551.5M204.6 556.9V550.8M205.1 556.9V551.7M205.7 556.9V549.4M207.5 556.9V549.8M208.1 556.9V548.1M208.6 556.9V546.0M209.8 556.9V551.7M211.6 556.9V550.5M215.1 556.8V546.9M215.6 556.8V554.1M216.8 556.8V549.1M218.6 556.8V552.5M219.1 556.8V552.6M220.3 556.8V547.3M220.9 556.8V551.1M221.5 556.8V545.0M223.8 556.8V553.1M225.6 556.8V552.8M226.1 556.8V547.4M227.3 556.8V546.5M227.9 556.8V547.6M230.2 556.8V554.3M232.0 556.8V550.5M232.6 556.8V554.1M233.1 556.8V550.5M234.9 556.8V544.3M239.0 556.8V548.2M240.7 556.8V553.5" stroke="#9fb4e4" stroke-width="0.7" fill="none"/>
<path d="M89.6 564.1V554.6M96.6 562.9V549.8M97.8 562.7V549.2M107.1 561.5V550.4M109.5 561.2V545.6M113.0 560.9V551.1M114.1 560.8V548.3M120.0 560.3V547.5M125.8 559.9V550.9M127.0 559.8V547.7M129.3 559.7V547.5M131.6 559.6V553.0M143.3 559.1V547.1M145.6 559.0V552.7M146.8 558.9V547.4M149.1 558.9V551.0M155.0 558.7V547.9M163.1 558.5V545.7M166.6 558.5V550.6M167.8 558.4V551.6M169.0 558.4V546.4M170.1 558.4V544.9M180.6 558.3V551.3M181.8 558.3V550.3M187.6 558.2V548.2M191.1 558.2V546.3M198.1 558.1V544.6M200.5 558.1V551.0M207.5 558.1V547.2M212.1 558.0V548.7M215.6 558.0V547.9M216.8 558.0V545.5M218.0 558.0V549.4M219.1 558.0V547.3M225.0 558.0V548.5M227.3 558.0V544.4M229.6 558.0V549.5M234.3 558.0V549.9M239.0 558.0V549.2M217.4 556.5V534.7" stroke="#d6c8c4" stroke-width="0.7" fill="none"/>
<polygon points="80.3,571.2 80.9,571.2 81.5,570.4 82.0,570.7 82.6,570.2 83.2,565.9 83.8,570.4 84.4,568.8 85.0,570.0 85.5,568.5 86.1,569.9 86.7,569.0 87.3,566.9 87.9,568.4 88.5,568.0 89.0,564.3 89.6,563.6 90.2,565.9 90.8,561.5 91.4,565.1 92.0,567.5 92.5,564.7 93.1,563.1 93.7,566.3 94.3,565.8 94.9,566.4 95.5,563.7 96.0,561.1 96.6,565.4 97.2,564.9 97.8,563.3 98.4,564.4 99.0,564.4 99.5,565.6 100.1,557.7 100.7,564.5 101.3,563.8 101.9,565.5 102.5,565.4 103.0,560.9 103.6,564.0 104.2,562.4 104.8,563.5 105.4,562.2 106.0,561.9 106.5,564.4 107.1,564.6 107.7,562.5 108.3,563.5 108.9,563.7 109.5,558.1 110.0,562.9 110.6,563.8 111.2,560.4 111.8,563.8 112.4,563.4 113.0,561.6 113.5,563.2 114.1,562.0 114.7,561.9 115.3,563.0 115.9,562.4 116.5,560.9 117.0,561.3 117.6,557.3 118.2,562.0 118.8,563.4 119.4,563.0 120.0,561.4 120.5,562.6 121.1,557.4 121.7,558.5 122.3,561.1 122.9,555.5 123.5,554.5 124.1,562.1 124.6,562.9 125.2,561.2 125.8,558.2 126.4,561.9 127.0,558.2 127.6,562.4 128.1,560.6 128.7,557.5 129.3,560.3 129.9,560.6 130.5,561.9 131.1,560.8 131.6,559.5 132.2,560.2 132.8,559.7 133.4,557.9 134.0,561.0 134.6,561.2 135.1,560.0 135.7,561.6 136.3,555.6 136.9,559.2 137.5,561.7 138.1,560.6 138.6,559.5 139.2,560.5 139.8,555.7 140.4,560.4 141.0,561.4 141.6,561.0 142.1,559.1 142.7,555.8 143.3,555.9 143.9,555.9 144.5,558.4 145.1,553.9 145.6,561.0 146.2,561.0 146.8,559.5 147.4,560.4 148.0,558.1 148.6,560.5 149.1,558.2 149.7,559.1 150.3,560.0 150.9,557.1 151.5,558.0 152.1,559.6 152.6,559.1 153.2,560.0 153.8,560.1 154.4,558.4 155.0,560.4 155.6,558.6 156.1,560.4 156.7,557.9 157.3,559.3 157.9,552.4 158.5,560.3 159.1,559.8 159.6,560.4 160.2,560.2 160.8,559.5 161.4,558.5 162.0,557.7 162.6,559.5 163.1,553.5 163.7,559.1 164.3,560.0 164.9,557.9 165.5,560.3 166.1,559.3 166.6,558.2 167.2,557.6 167.8,559.2 168.4,558.6 169.0,558.3 169.6,559.7 170.1,560.2 170.7,557.7 171.3,560.0 171.9,555.6 172.5,557.1 173.1,559.4 173.6,558.1 174.2,558.1 174.8,553.9 175.4,558.3 176.0,558.5 176.6,559.1 177.1,558.9 177.7,557.7 178.3,554.6 178.9,555.1 179.5,560.0 180.1,559.7 180.6,558.7 181.2,558.5 181.8,560.0 182.4,557.6 183.0,557.4 183.6,557.8 184.1,551.5 184.7,556.9 185.3,559.8 185.9,559.7 186.5,559.7 187.1,560.0 187.6,559.0 188.2,551.8 188.8,557.1 189.4,559.3 190.0,558.5 190.6,559.9 191.1,557.5 191.7,557.2 192.3,557.5 192.9,557.0 193.5,558.6 194.1,557.8 194.6,557.7 195.2,559.3 195.8,559.1 196.4,552.7 197.0,557.2 197.6,559.6 198.1,555.3 198.7,555.7 199.3,554.7 199.9,556.9 200.5,558.9 201.1,557.6 201.6,559.7 202.2,557.5 202.8,557.3 203.4,557.0 204.0,554.0 204.6,558.5 205.1,559.1 205.7,552.5 206.3,559.2 206.9,552.2 207.5,558.6 208.1,557.1 208.6,558.9 209.2,559.5 209.8,559.6 210.4,556.9 211.0,559.7 211.6,558.3 212.1,559.4 212.7,552.9 213.3,559.1 213.9,559.5 214.5,556.9 215.1,559.5 215.6,553.1 216.2,559.2 216.8,551.9 217.4,558.8 218.0,558.4 218.6,559.6 219.1,558.9 219.7,557.2 220.3,558.7 220.9,557.1 221.5,558.4 222.1,557.8 222.6,554.2 223.2,557.0 223.8,558.6 224.4,553.6 225.0,554.9 225.6,557.4 226.1,554.4 226.7,558.9 227.3,559.7 227.9,559.3 228.5,557.6 229.1,557.1 229.6,557.8 230.2,559.2 230.8,558.8 231.4,559.4 232.0,558.6 232.6,556.8 233.1,558.5 233.7,550.8 234.3,557.5 234.9,554.8 235.5,556.8 236.1,558.9 236.6,558.4 237.2,558.3 237.8,559.6 238.4,557.7 239.0,558.2 239.6,558.2 240.1,557.3 240.7,558.7 241.3,559.2 241.3,564.1 240.7,564.1 240.1,564.1 239.6,564.1 239.0,564.1 238.4,564.1 237.8,564.1 237.2,564.1 236.6,564.1 236.1,564.1 235.5,564.1 234.9,564.1 234.3,564.1 233.7,564.1 233.1,564.1 232.6,564.1 232.0,564.1 231.4,564.1 230.8,564.1 230.2,564.1 229.6,564.1 229.1,564.1 228.5,564.1 227.9,564.1 227.3,564.1 226.7,564.1 226.1,564.2 225.6,564.2 225.0,564.2 224.4,564.2 223.8,564.2 223.2,564.2 222.6,564.2 222.1,564.2 221.5,564.2 220.9,564.2 220.3,564.2 219.7,564.2 219.1,564.2 218.6,564.2 218.0,564.2 217.4,564.2 216.8,564.2 216.2,564.2 215.6,564.2 215.1,564.2 214.5,564.2 213.9,564.2 213.3,564.2 212.7,564.2 212.1,564.2 211.6,564.2 211.0,564.2 210.4,564.2 209.8,564.2 209.2,564.2 208.6,564.2 208.1,564.2 207.5,564.2 206.9,564.2 206.3,564.2 205.7,564.2 205.1,564.2 204.6,564.2 204.0,564.2 203.4,564.2 202.8,564.2 202.2,564.2 201.6,564.3 201.1,564.3 200.5,564.3 199.9,564.3 199.3,564.3 198.7,564.3 198.1,564.3 197.6,564.3 197.0,564.3 196.4,564.3 195.8,564.3 195.2,564.3 194.6,564.3 194.1,564.3 193.5,564.3 192.9,564.3 192.3,564.3 191.7,564.3 191.1,564.3 190.6,564.3 190.0,564.3 189.4,564.3 188.8,564.3 188.2,564.3 187.6,564.4 187.1,564.4 186.5,564.4 185.9,564.4 185.3,564.4 184.7,564.4 184.1,564.4 183.6,564.4 183.0,564.4 182.4,564.4 181.8,564.4 181.2,564.4 180.6,564.4 180.1,564.4 179.5,564.4 178.9,564.4 178.3,564.5 177.7,564.5 177.1,564.5 176.6,564.5 176.0,564.5 175.4,564.5 174.8,564.5 174.2,564.5 173.6,564.5 173.1,564.5 172.5,564.5 171.9,564.5 171.3,564.5 170.7,564.6 170.1,564.6 169.6,564.6 169.0,564.6 168.4,564.6 167.8,564.6 167.2,564.6 166.6,564.6 166.1,564.6 165.5,564.6 164.9,564.7 164.3,564.7 163.7,564.7 163.1,564.7 162.6,564.7 162.0,564.7 161.4,564.7 160.8,564.7 160.2,564.7 159.6,564.8 159.1,564.8 158.5,564.8 157.9,564.8 157.3,564.8 156.7,564.8 156.1,564.8 155.6,564.9 155.0,564.9 154.4,564.9 153.8,564.9 153.2,564.9 152.6,564.9 152.1,564.9 151.5,565.0 150.9,565.0 150.3,565.0 149.7,565.0 149.1,565.0 148.6,565.0 148.0,565.1 147.4,565.1 146.8,565.1 146.2,565.1 145.6,565.1 145.1,565.2 144.5,565.2 143.9,565.2 143.3,565.2 142.7,565.2 142.1,565.3 141.6,565.3 141.0,565.3 140.4,565.3 139.8,565.4 139.2,565.4 138.6,565.4 138.1,565.4 137.5,565.4 136.9,565.5 136.3,565.5 135.7,565.5 135.1,565.6 134.6,565.6 134.0,565.6 133.4,565.6 132.8,565.7 132.2,565.7 131.6,565.7 131.1,565.8 130.5,565.8 129.9,565.8 129.3,565.9 128.7,565.9 128.1,565.9 127.6,566.0 127.0,566.0 126.4,566.0 125.8,566.1 125.2,566.1 124.6,566.1 124.1,566.2 123.5,566.2 122.9,566.2 122.3,566.3 121.7,566.3 121.1,566.4 120.5,566.4 120.0,566.5 119.4,566.5 118.8,566.5 118.2,566.6 117.6,566.6 117.0,566.7 116.5,566.7 115.9,566.8 115.3,566.8 114.7,566.9 114.1,566.9 113.5,567.0 113.0,567.0 112.4,567.1 111.8,567.1 111.2,567.2 110.6,567.3 110.0,567.3 109.5,567.4 108.9,567.4 108.3,567.5 107.7,567.6 107.1,567.6 106.5,567.7 106.0,567.8 105.4,567.8 104.8,567.9 104.2,568.0 103.6,568.0 103.0,568.1 102.5,568.2 101.9,568.3 101.3,568.3 100.7,568.4 100.1,568.5 99.5,568.6 99.0,568.7 98.4,568.7 97.8,568.8 97.2,568.9 96.6,569.0 96.0,569.1 95.5,569.2 94.9,569.3 94.3,569.4 93.7,569.5 93.1,569.6 92.5,569.7 92.0,569.8 91.4,569.9 90.8,570.0 90.2,570.1 89.6,570.2 89.0,570.3 88.5,570.4 87.9,570.6 87.3,570.7 86.7,570.8 86.1,570.9 85.5,571.1 85.0,571.2 84.4,571.3 83.8,571.4 83.2,571.6 82.6,571.7 82.0,571.9 81.5,572.0 80.9,572.1 80.3,572.3" fill="#3b7be6"/>
<polyline points="66.3,570.4 66.9,570.3 67.5,570.7 68.0,570.0 68.6,570.4 69.2,570.7 69.8,569.7 70.4,570.5 71.0,570.7 71.5,569.9 72.1,569.8 72.7,570.4 73.3,570.4 73.9,570.4 74.5,570.0 75.0,570.1 75.6,569.3 76.2,569.2 76.8,569.2 77.4,569.0 78.0,569.4 78.5,568.6 79.1,568.9 79.7,568.2 80.3,567.8 80.9,567.1 81.5,567.2 82.0,566.7 82.6,565.5 83.2,565.7 83.8,565.4 84.4,564.6 85.0,564.0 85.5,563.5 86.1,562.5 86.7,561.8 87.3,561.0 87.9,560.9 88.5,560.1 89.0,559.4 89.6,559.1 90.2,559.2 90.8,558.2 91.4,557.5 92.0,557.3 92.5,556.4 93.1,556.2 93.7,555.6 94.3,555.5 94.9,554.7 95.5,554.7 96.0,553.7 96.6,553.7 97.2,553.3 97.8,552.5 98.4,552.1 99.0,551.4 99.5,551.3 100.1,550.1 100.7,550.4 101.3,549.6 101.9,549.0 102.5,548.4 103.0,548.4 103.6,547.2 104.2,546.9 104.8,546.0 105.4,546.6 106.0,545.4 106.5,544.8 107.1,544.4 107.7,543.8 108.3,543.2 108.9,542.6 109.5,542.2 110.0,542.3 110.6,541.5 111.2,540.6 111.8,539.7 112.4,538.9 113.0,538.8 113.5,538.5 114.1,537.2 114.7,536.8 115.3,536.5 115.9,535.6 116.5,535.5 117.0,534.7 117.6,534.0 118.2,534.3 118.8,532.8 119.4,532.5 120.0,532.0 120.5,531.6 121.1,530.9 121.7,530.3 122.3,530.3 122.9,529.7 123.5,528.7 124.1,528.7 124.6,528.5 125.2,527.8 125.8,526.5 126.4,525.9 127.0,524.9 127.6,524.9 128.1,524.1 128.7,523.7 129.3,522.7 129.9,521.2 130.5,521.3 131.1,520.1 131.6,520.0 132.2,519.2 132.8,517.9 133.4,517.6 134.0,516.8 134.6,516.5 135.1,516.1 135.7,515.0 136.3,514.6 136.9,513.4 137.5,512.7 138.1,512.6 138.6,511.3 139.2,511.5 139.8,510.4 140.4,510.4 141.0,509.2 141.6,508.9 142.1,508.1 142.7,507.1 143.3,506.9 143.9,506.5 144.5,505.5 145.1,504.8 145.6,504.4 146.2,504.2 146.8,503.6 147.4,503.1 148.0,502.2 148.6,501.6 149.1,501.1 149.7,500.2 150.3,500.2 150.9,499.0 151.5,498.3 152.1,497.5 152.6,497.2 153.2,497.0 153.8,496.2 154.4,496.1 155.0,495.2 155.6,494.7 156.1,493.6 156.7,493.2 157.3,492.4 157.9,492.4 158.5,492.1 159.1,491.5 159.6,490.3 160.2,489.9 160.8,490.0 161.4,488.8 162.0,489.4 162.6,488.7 163.1,488.5 163.7,488.0 164.3,487.6 164.9,487.1 165.5,486.4 166.1,486.2 166.6,486.7 167.2,485.8 167.8,485.8 168.4,485.5 169.0,485.5 169.6,485.4 170.1,484.0 170.7,484.4 171.3,483.6 171.9,484.1 172.5,482.9 173.1,483.1 173.6,482.6 174.2,482.7 174.8,482.1 175.4,481.9 176.0,481.6 176.6,481.4 177.1,480.5 177.7,480.6 178.3,480.1 178.9,480.2 179.5,480.3 180.1,479.6 180.6,479.7 181.2,478.6 181.8,478.6 182.4,477.7 183.0,478.2 183.6,477.9 184.1,477.1 184.7,476.5 185.3,476.4 185.9,475.9 186.5,475.9 187.1,475.9 187.6,475.6 188.2,474.9 188.8,474.7 189.4,474.8 190.0,474.8 190.6,473.9 191.1,473.7 191.7,473.0 192.3,473.5 192.9,473.3 193.5,472.8 194.1,472.2 194.6,472.2 195.2,472.1 195.8,472.5 196.4,471.5 197.0,472.0 197.6,471.0 198.1,471.2 198.7,470.6 199.3,470.5 199.9,470.7 200.5,470.2 201.1,470.0 201.6,470.3 202.2,469.9 202.8,470.0 203.4,469.7 204.0,469.2 204.6,469.6 205.1,469.4 205.7,469.7 206.3,469.5 206.9,469.7 207.5,469.0 208.1,469.2 208.6,469.3 209.2,468.7 209.8,469.1 210.4,469.5 211.0,468.4 211.6,469.1 212.1,468.7 212.7,468.9 213.3,468.4 213.9,468.7 214.5,469.0 215.1,469.0 215.6,468.9 216.2,468.0 216.8,468.2 217.4,468.9 218.0,468.1 218.6,468.2 219.1,468.5 219.7,468.5 220.3,468.8 220.9,468.8 221.5,468.9 222.1,469.4 222.6,469.6 223.2,469.3 223.8,469.3 224.4,469.3 225.0,469.7 225.6,469.5 226.1,469.6 226.7,469.8 227.3,470.5 227.9,469.7 228.5,470.8 229.1,470.2 229.6,470.3 230.2,471.3 230.8,470.8 231.4,471.7 232.0,471.3 232.6,472.7 233.1,472.3 233.7,473.7 234.3,474.0 234.9,474.2 235.5,474.8 236.1,475.7 236.6,475.9 237.2,476.7 237.8,477.0 238.4,477.6 239.0,476.9 239.6,477.5 240.1,478.0 240.7,478.6 241.3,479.1" stroke="#000" stroke-width="2.7" fill="none" stroke-linejoin="round"/>
<polyline points="66.3,571.0 66.9,570.8 67.5,570.9 68.0,571.0 68.6,571.0 69.2,570.8 69.8,570.8 70.4,570.3 71.0,570.8 71.5,570.6 72.1,570.6 72.7,570.7 73.3,570.6 73.9,570.3 74.5,570.7 75.0,570.4 75.6,570.2 76.2,570.2 76.8,569.8 77.4,569.8 78.0,569.5 78.5,569.8 79.1,569.3 79.7,569.4 80.3,569.3 80.9,569.0 81.5,568.9 82.0,569.3 82.6,569.0 83.2,568.7 83.8,568.8 84.4,568.4 85.0,567.7 85.5,567.7 86.1,567.4 86.7,566.8 87.3,566.4 87.9,566.4 88.5,566.0 89.0,565.3 89.6,565.1 90.2,565.2 90.8,564.6 91.4,564.5 92.0,564.1 92.5,563.7 93.1,563.2 93.7,563.0 94.3,562.7 94.9,562.4 95.5,561.5 96.0,561.3 96.6,561.0 97.2,560.8 97.8,560.3 98.4,559.9 99.0,559.4 99.5,559.3 100.1,558.7 100.7,558.4 101.3,557.9 101.9,557.7 102.5,557.2 103.0,557.0 103.6,556.2 104.2,556.0 104.8,555.7 105.4,555.5 106.0,554.6 106.5,554.8 107.1,554.3 107.7,553.6 108.3,553.6 108.9,553.1 109.5,552.6 110.0,552.2 110.6,552.0 111.2,551.8 111.8,550.8 112.4,550.7 113.0,550.3 113.5,549.8 114.1,549.7 114.7,549.0 115.3,549.2 115.9,548.2 116.5,547.9 117.0,548.0 117.6,547.4 118.2,547.2 118.8,546.5 119.4,546.3 120.0,545.9 120.5,545.6 121.1,544.8 121.7,545.0 122.3,544.2 122.9,543.7 123.5,543.9 124.1,543.3 124.6,542.8 125.2,542.4 125.8,542.3 126.4,541.8 127.0,541.2 127.6,541.2 128.1,540.6 128.7,539.9 129.3,539.9 129.9,539.7 130.5,539.0 131.1,539.2 131.6,538.7 132.2,538.3 132.8,538.0 133.4,537.7 134.0,537.8 134.6,537.6 135.1,536.8 135.7,537.0 136.3,536.3 136.9,536.4 137.5,536.2 138.1,535.7 138.6,535.6 139.2,535.2 139.8,534.6 140.4,534.7 141.0,534.4 141.6,534.1 142.1,533.6 142.7,533.3 143.3,533.4 143.9,532.6 144.5,532.8 145.1,532.4 145.6,532.3 146.2,532.1 146.8,531.4 147.4,531.1 148.0,531.0 148.6,531.0 149.1,530.2 149.7,530.3 150.3,529.8 150.9,529.4 151.5,529.1 152.1,529.2 152.6,528.6 153.2,528.7 153.8,528.6 154.4,528.0 155.0,527.9 155.6,527.7 156.1,528.0 156.7,527.9 157.3,527.5 157.9,527.4 158.5,527.0 159.1,527.3 159.6,526.9 160.2,526.5 160.8,526.6 161.4,526.5 162.0,526.5 162.6,526.2 163.1,526.0 163.7,525.9 164.3,525.9 164.9,525.8 165.5,525.6 166.1,525.6 166.6,525.6 167.2,525.7 167.8,525.9 168.4,525.8 169.0,525.4 169.6,525.9 170.1,525.4 170.7,525.6 171.3,525.6 171.9,525.2 172.5,525.3 173.1,525.6 173.6,525.3 174.2,525.5 174.8,525.1 175.4,525.1 176.0,525.1 176.6,525.2 177.1,524.9 177.7,525.0 178.3,525.3 178.9,525.4 179.5,525.2 180.1,525.5 180.6,524.9 181.2,525.4 181.8,525.5 182.4,525.4 183.0,525.4 183.6,525.3 184.1,525.5 184.7,525.5 185.3,525.0 185.9,525.1 186.5,525.6 187.1,525.3 187.6,525.3 188.2,525.5 188.8,525.1 189.4,525.4 190.0,525.5 190.6,525.5 191.1,525.5 191.7,525.1 192.3,525.6 192.9,525.5 193.5,525.3 194.1,525.3 194.6,525.2 195.2,525.6 195.8,525.6 196.4,525.5 197.0,525.7 197.6,525.2 198.1,525.5 198.7,525.3 199.3,525.5 199.9,525.6 200.5,525.5 201.1,525.6 201.6,525.7 202.2,525.5 202.8,525.8 203.4,525.4 204.0,525.3 204.6,525.2 205.1,525.8 205.7,525.4 206.3,525.7 206.9,525.3 207.5,525.8 208.1,525.5 208.6,525.6 209.2,525.7 209.8,525.5 210.4,525.5 211.0,526.1 211.6,526.1 212.1,525.8 212.7,525.6 213.3,525.8 213.9,525.8 214.5,526.1 215.1,526.0 215.6,526.2 216.2,526.0 216.8,525.8 217.4,526.0 218.0,526.3 218.6,525.9 219.1,526.5 219.7,526.6 220.3,526.6 220.9,526.5 221.5,526.5 222.1,527.1 222.6,527.2 223.2,528.1 223.8,528.7 224.4,529.4 225.0,529.9 225.6,530.6 226.1,530.7 226.7,531.3 227.3,531.5 227.9,531.8 228.5,531.7 229.1,531.9 229.6,531.8 230.2,532.0 230.8,532.2 231.4,532.4 232.0,532.1 232.6,532.1 233.1,532.6 233.7,532.5 234.3,532.7 234.9,532.6 235.5,532.5 236.1,532.9 236.6,532.4 237.2,532.7 237.8,532.5 238.4,532.8 239.0,533.0 239.6,532.9 240.1,533.1 240.7,533.1 241.3,533.2" stroke="#000" stroke-width="1.8" fill="none" stroke-linejoin="round"/>
<path d="M104.8 546.5V541.0M107.7 544.0V536.5M110.0 541.7V535.8M124.1 528.7V522.8M126.4 526.1V522.2M141.0 509.3V505.3M156.7 493.5V489.5M183.0 477.9V474.7M195.8 472.0V468.4M201.6 470.0V466.0M207.5 469.2V464.1M212.1 468.7V461.2M110.6 551.9V546.0M129.3 539.9V533.9M153.8 528.4V523.3M167.2 525.7V521.7M180.1 525.2V522.4" stroke="#000" stroke-width="1.7" fill="none"/>
<line x1="66.3" y1="413" x2="66.3" y2="572.4" stroke="#333" stroke-width="1.1"/>
<line x1="66.3" y1="572.4" x2="247" y2="572.4" stroke="#333" stroke-width="1.1"/>
<line x1="63.2" y1="572.4" x2="66.3" y2="572.4" stroke="#333" stroke-width="1"/>
<text x="59.8" y="575.7" font-size="9.5" text-anchor="end" fill="#222" >0</text>
<line x1="63.2" y1="552.5" x2="66.3" y2="552.5" stroke="#333" stroke-width="1"/>
<text x="59.8" y="555.8" font-size="9.5" text-anchor="end" fill="#222" >5</text>
<line x1="63.2" y1="532.7" x2="66.3" y2="532.7" stroke="#333" stroke-width="1"/>
<text x="59.8" y="536.0" font-size="9.5" text-anchor="end" fill="#222" >10</text>
<line x1="63.2" y1="512.9" x2="66.3" y2="512.9" stroke="#333" stroke-width="1"/>
<text x="59.8" y="516.1" font-size="9.5" text-anchor="end" fill="#222" >15</text>
<line x1="63.2" y1="493.0" x2="66.3" y2="493.0" stroke="#333" stroke-width="1"/>
<text x="59.8" y="496.3" font-size="9.5" text-anchor="end" fill="#222" >20</text>
<line x1="63.2" y1="473.1" x2="66.3" y2="473.1" stroke="#333" stroke-width="1"/>
<text x="59.8" y="476.4" font-size="9.5" text-anchor="end" fill="#222" >25</text>
<line x1="63.2" y1="453.3" x2="66.3" y2="453.3" stroke="#333" stroke-width="1"/>
<text x="59.8" y="456.6" font-size="9.5" text-anchor="end" fill="#222" >30</text>
<line x1="63.2" y1="433.4" x2="66.3" y2="433.4" stroke="#333" stroke-width="1"/>
<text x="59.8" y="436.7" font-size="9.5" text-anchor="end" fill="#222" >35</text>
<line x1="63.2" y1="413.6" x2="66.3" y2="413.6" stroke="#333" stroke-width="1"/>
<text x="59.8" y="416.9" font-size="9.5" text-anchor="end" fill="#222" >40</text>
<line x1="66.3" y1="572.4" x2="66.3" y2="575.4" stroke="#333" stroke-width="1"/>
<text x="66.3" y="588.5" font-size="9" text-anchor="middle" fill="#222" >0</text>
<line x1="101.3" y1="572.4" x2="101.3" y2="575.4" stroke="#333" stroke-width="1"/>
<text x="101.3" y="588.5" font-size="9" text-anchor="middle" fill="#222" >60</text>
<line x1="136.3" y1="572.4" x2="136.3" y2="575.4" stroke="#333" stroke-width="1"/>
<text x="136.3" y="588.5" font-size="9" text-anchor="middle" fill="#222" >120</text>
<line x1="171.3" y1="572.4" x2="171.3" y2="575.4" stroke="#333" stroke-width="1"/>
<text x="171.3" y="588.5" font-size="9" text-anchor="middle" fill="#222" >180</text>
<line x1="206.3" y1="572.4" x2="206.3" y2="575.4" stroke="#333" stroke-width="1"/>
<text x="206.3" y="588.5" font-size="9" text-anchor="middle" fill="#222" >240</text>
<line x1="241.3" y1="572.4" x2="241.3" y2="575.4" stroke="#333" stroke-width="1"/>
<text x="241.3" y="588.5" font-size="9" text-anchor="middle" fill="#222" >300</text>
<text x="153.4" y="608.3" font-size="10" font-weight="bold" text-anchor="middle" fill="#000" >Seconds</text>
<text transform="translate(40.2,491.2) rotate(-90)" font-size="10" font-weight="bold" text-anchor="middle">Fluorescence Intensity (AU)</text>
<text x="251.9" y="485" font-size="9.4" text-anchor="start" fill="#000">Sema4D<tspan font-size="7.52" dy="-3.10">(+/+)</tspan></text>
<text x="251.9" y="536.6" font-size="9.4" text-anchor="start" fill="#000">Sema4D<tspan font-size="7.52" dy="-3.10">(-/-)</tspan></text>
<text x="252.3" y="557.7" font-size="9.4" text-anchor="start" fill="#000">Sema4D<tspan font-size="7.52" dy="-3.10">(+/+)</tspan></text>
<text x="252.3" y="567.9" font-size="9.4" text-anchor="start" fill="#000">Sema4D<tspan font-size="7.52" dy="-3.10">(-/-)</tspan></text>
<path d="M246.6 558.6 L250.6 555.4 M246.4 564.8 H250.6" stroke="#222" stroke-width="0.9" fill="none"/>
<path d="M311.3 547.4 H313.5 V572.3 H311.3 M313.5 560.2 H316.4" stroke="#222" stroke-width="0.9" fill="none"/>
<text x="318.6" y="563.1" font-size="8.6" text-anchor="start" fill="#222" >+Leo.H4</text>
<path d="M351.8 560.2 H357.3 M362.6 463.9 H357.3 V587.1 H362.6" stroke="#222" stroke-width="0.9" fill="none"/>
<path d="M401.1 564.4V546.1M405.2 561.4V554.5M409.5 557.8V546.1M420.0 546.9V525.6M420.7 546.2V537.7M421.4 545.5V518.5M422.1 544.8V523.4M422.8 544.2V524.1M423.5 543.5V523.4M427.0 540.1V530.8M427.7 539.5V521.6M429.1 538.3V525.5M430.5 537.2V526.9M431.2 536.6V527.6M431.9 536.0V509.1M432.6 535.4V511.2M433.2 534.8V510.1M434.7 533.7V512.0M436.8 531.9V507.4M438.2 530.9V508.0M439.6 530.0V503.6M441.0 529.3V510.5M442.4 528.6V508.8M443.8 528.0V508.6M446.6 526.6V496.1M447.2 526.2V509.9M448.0 525.9V499.7M449.4 525.2V505.9M451.5 524.5V500.2M452.2 524.3V515.4M453.6 523.9V497.8M455.0 523.5V501.6M455.7 523.3V510.1M458.5 522.6V513.4M462.0 522.6V498.8M462.7 522.6V501.3M464.1 522.7V493.0M469.7 522.9V513.0M471.8 523.0V495.1M473.2 523.1V508.6M476.7 523.2V513.7M478.8 523.3V507.5M479.5 523.3V495.5M482.2 523.5V500.7M483.0 523.5V513.5M483.7 523.6V495.2M484.4 523.6V506.9M485.8 523.7V497.2M489.2 523.9V493.7M492.8 524.1V495.2M406.3 560.7V541.9M409.1 558.1V536.8M418.2 548.6V513.2M418.9 547.9V509.8M429.4 538.0V525.0M430.8 536.9V528.4M436.1 532.5V509.8M439.2 530.2V509.8M447.6 526.0V518.2M454.6 523.6V511.5M463.4 522.7V516.5M469.3 522.9V513.2M473.5 523.1V504.7M484.7 523.6V494.6M486.8 523.8V499.6M490.3 524.0V496.3M492.4 524.1V501.3" stroke="#707070" stroke-width="1" fill="none"/>
<path d="M400.4 564.8V557.4M404.6 561.9V540.9M408.1 559.2V546.8M410.9 556.3V547.7M411.6 555.5V539.9M413.0 554.1V535.7M414.4 552.6V529.9M418.6 548.3V530.7M459.9 522.5V500.3M467.6 522.8V504.2M473.9 523.1V493.3M474.6 523.1V497.2M397.9 566.5V555.4M403.5 562.6V548.6M411.2 555.9V543.6M421.4 545.5V540.2M479.8 523.3V479.4M481.2 523.4V509.8M460.9 522.6V514.9M444.1 527.8V523.3" stroke="#2a3aa8" stroke-width="1" fill="none"/>
<path d="M394.75 574.2V569.8M394.87 574.1V570.2M394.98 574.1V571.1M395.10 574.0V567.8M395.22 574.0V571.6M395.33 573.9V569.2M395.45 573.8V567.4M395.57 573.8V571.0M395.68 573.7V568.7M395.80 573.6V568.4M395.92 573.5V571.0M396.03 573.5V569.3M396.15 573.4V567.7M396.27 573.3V568.8M396.38 573.3V567.4M396.50 573.2V570.0M396.62 573.1V569.6M396.73 573.1V570.1M396.85 573.0V568.1M396.97 572.9V566.0M397.08 572.9V567.5M397.20 572.8V566.5M397.32 572.7V568.4M397.43 572.7V566.5M397.55 572.6V569.6M397.67 572.5V568.6M397.78 572.4V566.6M397.90 572.4V566.2M398.02 572.3V567.7M398.13 572.2V569.3M398.25 572.2V568.3M398.37 572.1V568.5M398.48 572.0V568.0M398.60 571.9V565.2M398.72 571.9V568.3M398.83 571.8V564.6M398.95 571.7V564.6M399.07 571.6V568.8M399.18 571.5V567.0M399.30 571.5V566.3M399.42 571.4V568.7M399.53 571.3V566.5M399.65 571.2V563.8M399.77 571.2V567.9M399.88 571.1V565.2M400.00 571.0V567.7M400.12 570.9V565.1M400.23 570.8V563.3M400.35 570.8V567.0M400.47 570.7V568.0M400.58 570.6V567.5M400.70 570.5V564.9M400.82 570.4V567.6M400.93 570.3V567.2M401.05 570.3V564.8M401.17 570.2V562.3M401.28 570.1V565.0M401.40 570.0V565.1M401.52 569.9V563.6M401.63 569.9V566.6M401.75 569.8V563.7M401.87 569.7V566.0M401.98 569.6V563.4M402.10 569.5V561.2M402.22 569.5V566.4M402.33 569.4V563.4M402.45 569.3V563.0M402.57 569.2V565.5M402.68 569.1V564.8M402.80 569.1V560.4M402.92 569.0V560.3M403.03 568.9V565.3M403.15 568.8V561.8M403.27 568.7V560.2M403.38 568.6V564.4M403.50 568.6V562.0M403.62 568.5V565.4M403.73 568.4V563.3M403.85 568.3V561.3M403.97 568.2V561.8M404.08 568.2V560.5M404.20 568.1V564.7M404.32 568.0V563.0M404.43 567.9V559.7M404.55 567.8V561.3M404.67 567.8V562.0M404.78 567.7V562.2M404.90 567.6V558.5M405.02 567.5V561.0M405.13 567.4V564.4M405.25 567.3V559.3M405.37 567.3V562.2M405.48 567.2V561.4M405.60 567.1V562.8M405.72 567.0V561.2M405.83 566.9V561.9M405.95 566.9V563.3M406.07 566.8V559.7M406.18 566.7V563.0M406.30 566.6V558.5M406.42 566.5V563.3M406.53 566.4V558.3M406.65 566.3V558.0M406.77 566.2V559.9M406.88 566.1V558.4M407.00 566.0V561.3M407.12 565.9V558.0M407.23 565.8V559.9M407.35 565.7V561.1M407.47 565.6V556.1M407.58 565.5V559.7M407.70 565.4V559.8M407.82 565.3V556.4M407.93 565.2V559.6M408.05 565.1V557.4M408.17 565.0V560.7M408.28 564.9V555.9M408.40 564.8V559.8M408.52 564.6V561.1M408.63 564.5V554.6M408.75 564.4V560.0M408.87 564.3V554.5M408.98 564.2V554.1M409.10 564.0V556.6M409.22 563.9V560.6M409.33 563.8V560.2M409.45 563.7V559.0M409.57 563.5V557.6M409.68 563.4V555.8M409.80 563.3V553.1M409.92 563.2V557.4M410.03 563.1V558.8M410.15 562.9V555.6M410.27 562.8V558.6M410.38 562.7V558.8M410.50 562.6V555.2M410.62 562.4V554.1M410.73 562.3V558.5M410.85 562.2V555.6M410.97 562.1V553.6M411.08 561.9V553.0M411.20 561.8V555.7M411.32 561.7V551.8M411.43 561.6V557.0M411.55 561.5V552.8M411.67 561.3V552.2M411.78 561.2V551.2M411.90 561.1V554.0M412.02 561.0V556.8M412.13 560.8V557.1M412.25 560.7V553.3M412.37 560.6V555.9M412.48 560.5V552.3M412.60 560.3V556.3M412.72 560.2V550.8M412.83 560.1V555.0M412.95 560.0V556.5M413.07 559.9V555.1M413.18 559.7V552.7M413.30 559.6V551.8M413.42 559.5V553.0M413.53 559.4V554.6M413.65 559.2V552.0M413.77 559.1V548.2M413.88 559.0V551.3M414.00 558.9V547.9M414.12 558.7V555.0M414.23 558.6V547.2M414.35 558.5V547.9M414.47 558.4V550.5M414.58 558.3V550.5M414.70 558.1V550.3M414.82 558.0V547.1M414.93 557.9V553.8M415.05 557.8V549.0M415.17 557.6V549.7M415.28 557.5V551.5M415.40 557.4V547.9M415.52 557.3V547.8M415.63 557.1V552.7M415.75 557.0V547.7M415.87 556.9V549.6M415.98 556.8V549.1M416.10 556.7V547.8M416.22 556.5V552.5M416.33 556.4V547.8M416.45 556.3V549.5M416.57 556.2V545.2M416.68 556.1V550.5M416.80 555.9V545.4M416.92 555.8V546.0M417.03 555.7V546.7M417.15 555.6V544.5M417.27 555.5V551.5M417.38 555.4V546.6M417.50 555.2V546.3M417.62 555.1V545.6M417.73 555.0V547.8M417.85 554.9V550.6M417.97 554.8V549.4M418.08 554.7V545.7M418.20 554.5V549.2M418.32 554.4V550.1M418.43 554.3V547.5M418.55 554.2V546.3M418.67 554.1V545.6M418.78 554.0V550.0M418.90 553.9V543.2M419.02 553.7V547.0M419.13 553.6V542.9M419.25 553.5V549.6M419.37 553.4V541.1M419.48 553.3V544.2M419.60 553.2V540.6M419.72 553.1V540.4M419.83 552.9V541.6M419.95 552.8V548.0M420.07 552.7V545.7M420.18 552.6V546.6M420.30 552.5V541.5M420.42 552.4V546.7M420.53 552.2V546.4M420.65 552.1V547.2M420.77 552.0V547.0M420.88 551.9V539.4M421.00 551.8V538.9M421.12 551.7V544.3M421.23 551.6V540.8M421.35 551.4V543.2M421.47 551.3V542.6M421.58 551.2V543.8M421.70 551.1V541.2M421.82 551.0V544.8M421.93 550.9V544.5M422.05 550.8V541.9M422.17 550.6V544.8M422.28 550.5V542.4M422.40 550.4V537.5M422.52 550.3V546.1M422.63 550.2V545.2M422.75 550.1V538.4M422.87 550.0V545.4M422.98 549.8V543.4M423.10 549.7V537.5M423.22 549.6V539.8M423.33 549.5V543.3M423.45 549.4V544.8M423.57 549.3V542.5M423.68 549.2V542.2M423.80 549.0V537.2M423.92 548.9V535.4M424.03 548.8V537.1M424.15 548.7V535.8M424.27 548.6V535.4M424.38 548.5V535.8M424.50 548.3V535.2M424.62 548.2V534.6M424.73 548.1V543.1M424.85 548.0V540.7M424.97 547.9V541.3M425.08 547.8V537.6M425.20 547.7V538.6M425.32 547.5V539.9M425.43 547.4V534.9M425.55 547.3V539.1M425.67 547.2V540.9M425.78 547.1V540.1M425.90 547.0V538.1M426.02 546.9V536.5M426.13 546.8V536.8M426.25 546.7V538.0M426.37 546.6V540.4M426.48 546.4V538.1M426.60 546.3V538.8M426.72 546.2V540.2M426.83 546.1V536.3M426.95 546.0V539.8M427.07 545.9V534.3M427.18 545.8V534.7M427.30 545.7V540.0M427.42 545.6V534.8M427.53 545.5V537.7M427.65 545.4V536.5M427.77 545.3V534.7M427.88 545.2V532.9M428.00 545.1V531.5M428.12 545.0V533.0M428.23 544.9V538.4M428.35 544.8V534.8M428.47 544.7V536.8M428.58 544.6V540.1M428.70 544.5V534.3M428.82 544.4V535.1M428.93 544.3V530.7M429.05 544.2V536.4M429.17 544.1V530.8M429.28 544.0V534.1M429.40 543.9V538.5M429.52 543.9V531.7M429.63 543.8V536.3M429.75 543.7V533.5M429.87 543.6V538.3M429.98 543.5V538.9M430.10 543.4V528.9M430.22 543.3V538.3M430.33 543.2V537.1M430.45 543.1V536.8M430.57 543.0V537.4M430.68 542.9V529.4M430.80 542.8V527.4M430.92 542.7V531.0M431.03 542.6V533.7M431.15 542.5V528.2M431.27 542.4V532.3M431.38 542.3V536.3M431.50 542.2V530.0M431.62 542.1V533.6M431.73 542.0V534.4M431.85 541.9V533.8M431.97 541.8V532.9M432.08 541.7V535.1M432.20 541.6V530.2M432.32 541.5V527.2M432.43 541.4V530.4M432.55 541.3V536.6M432.67 541.2V528.9M432.78 541.1V536.3M432.90 541.0V531.0M433.02 540.9V526.5M433.13 540.8V528.5M433.25 540.7V525.7M433.37 540.6V527.4M433.48 540.5V532.8M433.60 540.4V534.1M433.72 540.3V530.5M433.83 540.3V527.7M433.95 540.2V532.8M434.07 540.1V531.5M434.18 540.0V526.6M434.30 539.9V531.1M434.42 539.8V528.1M434.53 539.7V528.6M434.65 539.6V524.0M434.77 539.5V534.4M434.88 539.4V532.4M435.00 539.3V525.4M435.12 539.2V526.6M435.23 539.1V533.2M435.35 539.0V532.6M435.47 538.9V531.6M435.58 538.8V527.6M435.70 538.7V523.2M435.82 538.6V531.2M435.93 538.5V531.3M436.05 538.4V525.4M436.17 538.3V528.4M436.28 538.2V523.3M436.40 538.1V521.3M436.52 538.0V521.9M436.63 537.9V524.5M436.75 537.8V527.0M436.87 537.7V532.1M436.98 537.6V523.0M437.10 537.5V527.8M437.22 537.5V526.9M437.33 537.4V524.8M437.45 537.3V520.6M437.57 537.2V525.5M437.68 537.1V521.0M437.80 537.0V520.3M437.92 536.9V531.0M438.03 536.9V527.6M438.15 536.8V520.9M438.27 536.7V522.3M438.38 536.6V519.7M438.50 536.6V529.3M438.62 536.5V524.9M438.73 536.4V519.9M438.85 536.3V524.7M438.97 536.3V522.9M439.08 536.2V519.1M439.20 536.1V529.0M439.32 536.1V530.4M439.43 536.0V520.3M439.55 536.0V523.6M439.67 535.9V528.3M439.78 535.8V520.3M439.90 535.8V527.2M440.02 535.7V529.0M440.13 535.7V526.8M440.25 535.6V530.1M440.37 535.5V525.3M440.48 535.5V520.5M440.60 535.4V524.6M440.72 535.4V518.1M440.83 535.3V529.7M440.95 535.3V528.0M441.07 535.2V528.3M441.18 535.1V522.8M441.30 535.1V527.5M441.42 535.0V521.5M441.53 535.0V523.3M441.65 534.9V522.5M441.77 534.9V519.1M441.88 534.8V519.7M442.00 534.7V518.0M442.12 534.7V527.7M442.23 534.6V524.7M442.35 534.6V517.3M442.47 534.5V524.4M442.58 534.4V525.8M442.70 534.4V523.2M442.82 534.3V527.0M442.93 534.3V518.4M443.05 534.2V521.1M443.17 534.2V527.9M443.28 534.1V516.8M443.40 534.0V522.4M443.52 534.0V525.7M443.63 533.9V521.1M443.75 533.9V516.8M443.87 533.8V524.3M443.98 533.7V528.5M444.10 533.7V526.1M444.22 533.6V527.8M444.33 533.6V521.8M444.45 533.5V524.5M444.57 533.5V517.6M444.68 533.4V525.7M444.80 533.3V528.1M444.92 533.3V522.3M445.03 533.2V526.6M445.15 533.2V524.2M445.27 533.1V525.2M445.38 533.1V525.7M445.50 533.0V519.9M445.62 532.9V516.0M445.73 532.9V523.1M445.85 532.8V519.7M445.97 532.8V523.6M446.08 532.7V516.0M446.20 532.6V520.6M446.32 532.6V527.1M446.43 532.5V518.1M446.55 532.5V524.7M446.67 532.4V526.7M446.78 532.4V527.0M446.90 532.3V516.6M447.02 532.2V518.2M447.13 532.2V522.6M447.25 532.1V520.0M447.37 532.1V518.1M447.48 532.0V526.0M447.60 531.9V517.9M447.72 531.9V517.8M447.83 531.8V514.8M447.95 531.8V526.0M448.07 531.7V519.4M448.18 531.7V520.1M448.30 531.6V515.8M448.42 531.5V521.9M448.53 531.5V518.0M448.65 531.4V515.0M448.77 531.4V521.9M448.88 531.3V519.7M449.00 531.3V514.9M449.12 531.2V525.7M449.23 531.2V513.8M449.35 531.1V522.1M449.47 531.1V520.2M449.58 531.0V522.3M449.70 531.0V515.8M449.82 530.9V519.1M449.93 530.9V516.3M450.05 530.9V524.5M450.17 530.8V514.6M450.28 530.8V515.3M450.40 530.7V517.0M450.52 530.7V522.8M450.63 530.6V522.3M450.75 530.6V519.8M450.87 530.6V524.7M450.98 530.5V513.4M451.10 530.5V520.3M451.22 530.5V513.3M451.33 530.4V523.0M451.45 530.4V517.1M451.57 530.4V515.2M451.68 530.3V517.1M451.80 530.3V519.9M451.92 530.3V525.0M452.03 530.2V519.6M452.15 530.2V520.2M452.27 530.2V513.1M452.38 530.1V512.7M452.50 530.1V512.9M452.62 530.1V512.6M452.73 530.0V522.8M452.85 530.0V524.5M452.97 530.0V521.2M453.08 529.9V524.8M453.20 529.9V523.3M453.32 529.9V517.5M453.43 529.8V522.2M453.55 529.8V517.0M453.67 529.8V519.9M453.78 529.7V521.2M453.90 529.7V512.3M454.02 529.7V522.2M454.13 529.6V513.4M454.25 529.6V517.8M454.37 529.6V516.1M454.48 529.5V522.6M454.60 529.5V515.0M454.72 529.5V513.1M454.83 529.4V521.8M454.95 529.4V518.3M455.07 529.4V516.0M455.18 529.3V518.2M455.30 529.3V514.7M455.42 529.2V516.0M455.53 529.2V520.2M455.65 529.2V515.5M455.77 529.1V514.3M455.88 529.1V518.2M456.00 529.1V516.5M456.12 529.0V515.9M456.23 529.0V517.9M456.35 529.0V522.8M456.47 528.9V518.7M456.58 528.9V514.0M456.70 528.9V514.6M456.82 528.8V522.8M456.93 528.8V517.7M457.05 528.8V516.3M457.17 528.7V516.9M457.28 528.7V521.7M457.40 528.7V515.4M457.52 528.7V514.8M457.63 528.6V516.8M457.75 528.6V511.6M457.87 528.6V516.2M457.98 528.6V523.3M458.10 528.5V519.9M458.22 528.5V514.6M458.33 528.5V522.4M458.45 528.5V511.2M458.57 528.5V514.6M458.68 528.5V513.7M458.80 528.5V521.2M458.92 528.5V523.3M459.03 528.4V512.3M459.15 528.4V516.9M459.27 528.4V517.8M459.38 528.4V516.8M459.50 528.4V513.6M459.62 528.4V518.6M459.73 528.4V513.6M459.85 528.4V521.3M459.97 528.4V510.9M460.08 528.4V514.5M460.20 528.4V519.3M460.32 528.4V517.3M460.43 528.5V512.2M460.55 528.5V519.3M460.67 528.5V514.5M460.78 528.5V511.9M460.90 528.5V511.2M461.02 528.5V520.2M461.13 528.5V513.3M461.25 528.5V515.7M461.37 528.5V513.2M461.48 528.5V522.5M461.60 528.5V518.2M461.72 528.5V517.7M461.83 528.5V513.1M461.95 528.5V517.7M462.07 528.5V522.9M462.18 528.5V520.8M462.30 528.5V512.9M462.42 528.5V512.3M462.53 528.5V516.2M462.65 528.5V522.5M462.77 528.5V513.7M462.88 528.6V512.5M463.00 528.6V519.8M463.12 528.6V517.4M463.23 528.6V519.8M463.35 528.6V522.8M463.47 528.6V514.2M463.58 528.6V521.5M463.70 528.6V522.4M463.82 528.6V512.0M463.93 528.6V522.3M464.05 528.6V513.9M464.17 528.6V513.2M464.28 528.6V520.4M464.40 528.6V518.8M464.52 528.6V520.7M464.63 528.6V514.6M464.75 528.6V511.2M464.87 528.6V514.1M464.98 528.6V517.3M465.10 528.6V516.8M465.22 528.6V518.4M465.33 528.7V514.5M465.45 528.7V520.2M465.57 528.7V520.5M465.68 528.7V514.8M465.80 528.7V520.4M465.92 528.7V511.1M466.03 528.7V514.4M466.15 528.7V521.3M466.27 528.7V523.3M466.38 528.7V516.0M466.50 528.7V521.9M466.62 528.7V517.3M466.73 528.7V516.0M466.85 528.7V513.4M466.97 528.7V518.7M467.08 528.7V516.7M467.20 528.7V513.3M467.32 528.7V522.0M467.43 528.7V519.4M467.55 528.7V513.4M467.67 528.7V519.1M467.78 528.8V511.9M467.90 528.8V522.6M468.02 528.8V522.6M468.13 528.8V519.1M468.25 528.8V517.8M468.37 528.8V519.0M468.48 528.8V520.9M468.60 528.8V518.0M468.72 528.8V512.4M468.83 528.8V511.8M468.95 528.8V515.8M469.07 528.8V520.5M469.18 528.8V516.4M469.30 528.8V521.7M469.42 528.8V523.0M469.53 528.8V513.7M469.65 528.8V520.4M469.77 528.8V521.7M469.88 528.8V513.4M470.00 528.8V522.2M470.12 528.8V520.8M470.23 528.9V521.9M470.35 528.9V512.5M470.47 528.9V515.2M470.58 528.9V521.5M470.70 528.9V522.9M470.82 528.9V512.3M470.93 528.9V522.2M471.05 528.9V514.8M471.17 528.9V515.1M471.28 528.9V516.4M471.40 528.9V517.8M471.52 528.9V518.6M471.63 528.9V520.3M471.75 528.9V515.6M471.87 528.9V521.9M471.98 528.9V517.8M472.10 528.9V520.6M472.22 528.9V519.2M472.33 528.9V512.6M472.45 528.9V516.7M472.57 528.9V515.7M472.68 529.0V515.7M472.80 529.0V523.9M472.92 529.0V514.0M473.03 529.0V512.8M473.15 529.0V514.4M473.27 529.0V517.3M473.38 529.0V513.2M473.50 529.0V511.9M473.62 529.0V520.4M473.73 529.0V521.8M473.85 529.0V519.7M473.97 529.0V523.7M474.08 529.0V521.0M474.20 529.0V522.9M474.32 529.0V523.8M474.43 529.0V518.9M474.55 529.0V523.9M474.67 529.0V517.9M474.78 529.0V513.2M474.90 529.0V514.9M475.02 529.0V523.3M475.13 529.1V514.8M475.25 529.1V521.6M475.37 529.1V513.8M475.48 529.1V515.8M475.60 529.1V517.1M475.72 529.1V518.5M475.83 529.1V511.6M475.95 529.1V521.4M476.07 529.1V512.6M476.18 529.1V521.4M476.30 529.1V522.8M476.42 529.1V521.3M476.53 529.1V523.6M476.65 529.1V513.5M476.77 529.1V521.7M476.88 529.1V516.8M477.00 529.1V520.6M477.12 529.1V519.5M477.23 529.1V514.1M477.35 529.1V517.1M477.47 529.1V520.7M477.58 529.2V514.6M477.70 529.2V522.3M477.82 529.2V523.6M477.93 529.2V515.3M478.05 529.2V513.3M478.17 529.2V514.4M478.28 529.2V515.3M478.40 529.2V512.3M478.52 529.2V512.4M478.63 529.2V516.9M478.75 529.2V521.9M478.87 529.2V516.8M478.98 529.2V518.7M479.10 529.2V515.2M479.22 529.2V519.7M479.33 529.2V523.2M479.45 529.2V521.7M479.57 529.2V522.4M479.68 529.3V514.9M479.80 529.3V515.5M479.92 529.3V517.4M480.03 529.3V520.2M480.15 529.3V515.0M480.27 529.3V518.5M480.38 529.3V518.0M480.50 529.3V521.7M480.62 529.3V511.6M480.73 529.3V518.6M480.85 529.3V518.3M480.97 529.3V521.6M481.08 529.3V518.6M481.20 529.3V518.3M481.32 529.3V518.9M481.43 529.4V514.9M481.55 529.4V520.0M481.67 529.4V516.4M481.78 529.4V515.8M481.90 529.4V522.6M482.02 529.4V513.9M482.13 529.4V523.4M482.25 529.4V521.1M482.37 529.4V513.8M482.48 529.4V522.8M482.60 529.4V520.9M482.72 529.4V519.1M482.83 529.4V512.4M482.95 529.4V512.1M483.07 529.5V521.6M483.18 529.5V516.3M483.30 529.5V513.9M483.42 529.5V517.9M483.53 529.5V520.4M483.65 529.5V522.5M483.77 529.5V523.5M483.88 529.5V523.9M484.00 529.5V523.8M484.12 529.5V515.3M484.23 529.5V517.0M484.35 529.5V523.6M484.47 529.5V512.6M484.58 529.5V512.0M484.70 529.6V519.2M484.82 529.6V519.9M484.93 529.6V513.4M485.05 529.6V516.1M485.17 529.6V515.1M485.28 529.6V522.2M485.40 529.6V515.3M485.52 529.6V518.9M485.63 529.6V523.8M485.75 529.6V523.9M485.87 529.6V521.2M485.98 529.6V521.6M486.10 529.6V521.2M486.22 529.6V513.0M486.33 529.7V519.5M486.45 529.7V522.0M486.57 529.7V523.3M486.68 529.7V523.9M486.80 529.7V519.5M486.92 529.7V519.3M487.03 529.7V523.6M487.15 529.7V518.1M487.27 529.7V520.3M487.38 529.7V524.4M487.50 529.7V518.6M487.62 529.7V522.7M487.73 529.7V522.4M487.85 529.7V515.1M487.97 529.8V519.2M488.08 529.8V520.2M488.20 529.8V517.7M488.32 529.8V515.4M488.43 529.8V516.8M488.55 529.8V512.7M488.67 529.8V515.7M488.78 529.8V520.4M488.90 529.8V512.7M489.02 529.8V524.5M489.13 529.8V522.4M489.25 529.8V523.2M489.37 529.8V519.9M489.48 529.8V520.3M489.60 529.8V519.8M489.72 529.9V516.8M489.83 529.9V520.4M489.95 529.9V518.7M490.07 529.9V516.2M490.18 529.9V513.1M490.30 529.9V512.7M490.42 529.9V520.2M490.53 529.9V520.0M490.65 529.9V512.3M490.77 529.9V514.2M490.88 529.9V513.7M491.00 529.9V523.4M491.12 529.9V521.2M491.23 529.9V519.5M491.35 530.0V521.0M491.47 530.0V519.0M491.58 530.0V512.9M491.70 530.0V520.0M491.82 530.0V518.5M491.93 530.0V520.8M492.05 530.0V517.5M492.17 530.0V518.0M492.28 530.0V522.6M492.40 530.0V524.2M492.52 530.0V515.4M492.63 530.0V514.4M492.75 530.0V520.7M492.87 530.0V522.4M492.98 530.0V523.7M493.10 530.0V517.1" stroke="#050505" stroke-width="0.55" fill="none"/>
<line x1="395.1" y1="573.2" x2="419.6" y2="544.4" stroke="#fff" stroke-width="0.7" stroke-dasharray="2 1.2" opacity="0.85"/>
<line x1="387.4" y1="472" x2="387.4" y2="574.0" stroke="#333" stroke-width="1"/>
<line x1="387.4" y1="574.0" x2="495" y2="574.0" stroke="#333" stroke-width="1"/>
<line x1="385" y1="574.0" x2="387.4" y2="574.0" stroke="#333" stroke-width="1"/>
<text x="381" y="577.1" font-size="8.6" text-anchor="end" fill="#222" >0</text>
<line x1="385" y1="557.1" x2="387.4" y2="557.1" stroke="#333" stroke-width="1"/>
<text x="381" y="560.2" font-size="8.6" text-anchor="end" fill="#222" >1</text>
<line x1="385" y1="540.2" x2="387.4" y2="540.2" stroke="#333" stroke-width="1"/>
<text x="381" y="543.3" font-size="8.6" text-anchor="end" fill="#222" >2</text>
<line x1="385" y1="523.3" x2="387.4" y2="523.3" stroke="#333" stroke-width="1"/>
<text x="381" y="526.4" font-size="8.6" text-anchor="end" fill="#222" >3</text>
<line x1="385" y1="506.4" x2="387.4" y2="506.4" stroke="#333" stroke-width="1"/>
<text x="381" y="509.5" font-size="8.6" text-anchor="end" fill="#222" >4</text>
<line x1="385" y1="489.5" x2="387.4" y2="489.5" stroke="#333" stroke-width="1"/>
<text x="381" y="492.6" font-size="8.6" text-anchor="end" fill="#222" >5</text>
<line x1="385" y1="472.6" x2="387.4" y2="472.6" stroke="#333" stroke-width="1"/>
<text x="381" y="475.7" font-size="8.6" text-anchor="end" fill="#222" >6</text>
<line x1="388.1" y1="574.0" x2="388.1" y2="576.5" stroke="#333" stroke-width="1"/>
<line x1="398.6" y1="574.0" x2="398.6" y2="576.5" stroke="#333" stroke-width="1"/>
<line x1="409.1" y1="574.0" x2="409.1" y2="576.5" stroke="#333" stroke-width="1"/>
<line x1="419.6" y1="574.0" x2="419.6" y2="576.5" stroke="#333" stroke-width="1"/>
<line x1="430.1" y1="574.0" x2="430.1" y2="576.5" stroke="#333" stroke-width="1"/>
<line x1="440.6" y1="574.0" x2="440.6" y2="576.5" stroke="#333" stroke-width="1"/>
<line x1="451.1" y1="574.0" x2="451.1" y2="576.5" stroke="#333" stroke-width="1"/>
<line x1="461.6" y1="574.0" x2="461.6" y2="576.5" stroke="#333" stroke-width="1"/>
<line x1="472.1" y1="574.0" x2="472.1" y2="576.5" stroke="#333" stroke-width="1"/>
<line x1="482.6" y1="574.0" x2="482.6" y2="576.5" stroke="#333" stroke-width="1"/>
<line x1="493.1" y1="574.0" x2="493.1" y2="576.5" stroke="#333" stroke-width="1"/>
<text x="388.1" y="590" font-size="8.6" text-anchor="middle" fill="#222" >0</text>
<text x="409.1" y="590" font-size="8.6" text-anchor="middle" fill="#222" >60</text>
<text x="430.1" y="590" font-size="8.6" text-anchor="middle" fill="#222" >120</text>
<text x="451.1" y="590" font-size="8.6" text-anchor="middle" fill="#222" >180</text>
<text x="472.1" y="590" font-size="8.6" text-anchor="middle" fill="#222" >240</text>
<text x="493.1" y="590" font-size="8.6" text-anchor="middle" fill="#222" >300</text>
<text x="444.2" y="602.6" font-size="9.2" font-weight="bold" text-anchor="middle" fill="#000" >Seconds</text>
<text transform="translate(371.3,521.5) rotate(-90)" font-size="8.4" font-weight="bold" text-anchor="middle">Fluorescence Intensity (AU)</text>
<text x="394.6" y="498.6" font-size="9.5" text-anchor="start" fill="#000">Sema4D<tspan font-size="7.60" dy="-3.14">(+/+)</tspan></text>
<text x="430.5" y="558.8" font-size="9.5" text-anchor="start" fill="#000">Sema4D<tspan font-size="7.60" dy="-3.14">(-/-)</tspan></text>
</svg>
</body></html>
